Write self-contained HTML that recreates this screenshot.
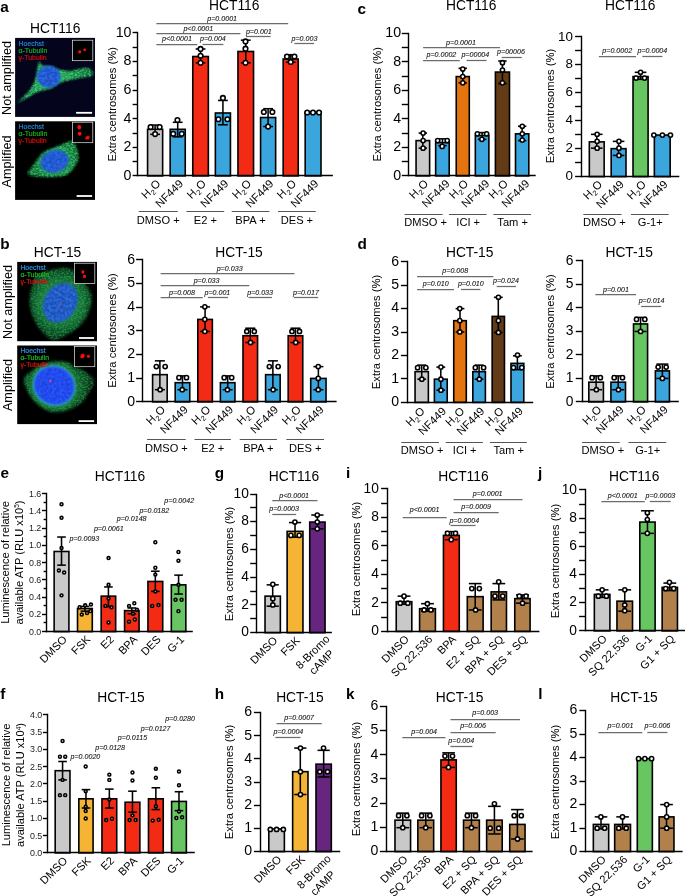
<!DOCTYPE html>
<html><head><meta charset="utf-8"><title>figure</title>
<style>
html,body{margin:0;padding:0;background:#fff;}
body{width:685px;height:896px;overflow:hidden;font-family:"Liberation Sans",sans-serif;}
svg{display:block;}
svg text{font-family:"Liberation Sans",sans-serif;}
</style></head><body>
<svg width="685" height="896" viewBox="0 0 685 896" style="will-change:transform">
<rect x="0" y="0" width="685" height="896" fill="#fff"/>
<defs>
<filter id="b1" x="-30%" y="-30%" width="160%" height="160%"><feGaussianBlur stdDeviation="1.0"/></filter>
<filter id="b2" x="-30%" y="-30%" width="160%" height="160%"><feGaussianBlur stdDeviation="1.8"/></filter>
<filter id="b05" x="-30%" y="-30%" width="160%" height="160%"><feGaussianBlur stdDeviation="0.45"/></filter>
<filter id="fib" x="-10%" y="-10%" width="120%" height="120%">
  <feGaussianBlur in="SourceGraphic" stdDeviation="0.9" result="bl"/>
  <feTurbulence type="fractalNoise" baseFrequency="0.45 0.6" numOctaves="3" seed="11" result="n"/>
  <feColorMatrix in="n" type="matrix" values="0 0 0 0 0  0 0 0 0 0  0 0 0 0 0  0 3.6 0 0 -1.5" result="a"/>
  <feComposite in="bl" in2="a" operator="in" result="c"/>
  <feGaussianBlur in="c" stdDeviation="0.35"/>
</filter>
<filter id="fibn" x="-10%" y="-10%" width="120%" height="120%">
  <feGaussianBlur in="SourceGraphic" stdDeviation="0.8" result="bl"/>
  <feTurbulence type="fractalNoise" baseFrequency="0.4" numOctaves="2" seed="5" result="n"/>
  <feColorMatrix in="n" type="matrix" values="0 0 0 0 0  0 0 0 0 0  0 0 0 0 0  0 0 2.6 0 -0.9" result="a"/>
  <feComposite in="bl" in2="a" operator="in" result="c"/>
  <feGaussianBlur in="c" stdDeviation="0.4"/>
</filter>
</defs>
<g>
<rect x="15.1" y="37.9" width="79.9" height="79" fill="#04041c"/>
<clipPath id="cp15_37"><rect x="15.1" y="37.9" width="79.9" height="79"/></clipPath>
<g clip-path="url(#cp15_37)"><radialGradient id="rg1" gradientUnits="userSpaceOnUse" cx="48.8" cy="76.7" r="46"><stop offset="0.3" stop-color="#26a055"/><stop offset="0.62" stop-color="#1a8444"/><stop offset="1" stop-color="#12683a"/></radialGradient><path d="M39.21,61.75 C39.88,61.6 40.8,65.08 42.39,65.78 C43.98,66.48 47.11,65.78 49.81,66.42 C52.51,67.05 57.39,69.32 60.41,70.02 C63.43,70.72 66.92,71.27 69.94,71.08 C72.97,70.89 77.84,69.19 80.54,68.75 C83.25,68.3 86.12,67.6 87.96,68.11 C89.81,68.62 92.26,70.96 92.84,72.14 C93.41,73.32 92.98,75.22 91.78,75.96 C90.57,76.69 87.42,76.54 84.78,77.02 C82.14,77.49 77.36,78.5 74.18,79.14 C71,79.77 66.13,80.49 63.59,81.25 C61.04,82.02 59.14,83.17 57.23,84.22 C55.32,85.27 53.09,87.33 50.87,88.25 C48.64,89.17 44.62,89.73 42.39,90.37 C40.17,91 38.26,91.41 36.03,92.49 C33.81,93.57 29.78,96.34 27.55,97.58 C25.33,98.82 22.79,99.96 21.2,100.75 C19.61,101.55 16.7,103.35 16.96,102.87 C17.21,102.4 20.98,99.45 22.89,97.58 C24.8,95.7 27.99,92.59 29.67,90.37 C31.36,88.14 33.08,85.15 34.12,82.74 C35.17,80.32 36.1,76.64 36.67,74.26 C37.24,71.88 37.56,68.72 37.94,66.84 C38.32,64.97 38.54,61.91 39.21,61.75 Z" fill="url(#rg1)" filter="url(#b1)"/><path d="M39.21,61.75 C39.88,61.6 40.8,65.08 42.39,65.78 C43.98,66.48 47.11,65.78 49.81,66.42 C52.51,67.05 57.39,69.32 60.41,70.02 C63.43,70.72 66.92,71.27 69.94,71.08 C72.97,70.89 77.84,69.19 80.54,68.75 C83.25,68.3 86.12,67.6 87.96,68.11 C89.81,68.62 92.26,70.96 92.84,72.14 C93.41,73.32 92.98,75.22 91.78,75.96 C90.57,76.69 87.42,76.54 84.78,77.02 C82.14,77.49 77.36,78.5 74.18,79.14 C71,79.77 66.13,80.49 63.59,81.25 C61.04,82.02 59.14,83.17 57.23,84.22 C55.32,85.27 53.09,87.33 50.87,88.25 C48.64,89.17 44.62,89.73 42.39,90.37 C40.17,91 38.26,91.41 36.03,92.49 C33.81,93.57 29.78,96.34 27.55,97.58 C25.33,98.82 22.79,99.96 21.2,100.75 C19.61,101.55 16.7,103.35 16.96,102.87 C17.21,102.4 20.98,99.45 22.89,97.58 C24.8,95.7 27.99,92.59 29.67,90.37 C31.36,88.14 33.08,85.15 34.12,82.74 C35.17,80.32 36.1,76.64 36.67,74.26 C37.24,71.88 37.56,68.72 37.94,66.84 C38.32,64.97 38.54,61.91 39.21,61.75 Z" fill="#46d884" filter="url(#fib)" opacity="0.8"/><ellipse cx="48.8" cy="76.7" rx="11.6" ry="10.6" fill="#1c4fc0" filter="url(#b1)" transform="rotate(0 48.8 76.7)"/><ellipse cx="48.8" cy="76.7" rx="11.6" ry="10.6" fill="#2b6cf0" filter="url(#fibn)" transform="rotate(0 48.8 76.7)"/><circle cx="48" cy="79.8" r="0.8" fill="#e02050" filter="url(#b05)"/></g>
<rect x="72.4" y="40.2" width="20.4" height="20.5" fill="#000" stroke="#e8e8e8" stroke-width="0.7"/>
<ellipse cx="79.7" cy="51.8" rx="1.6" ry="1.6" fill="#ff1010" filter="url(#b05)" transform="rotate(0 79.7 51.8)"/>
<ellipse cx="84.7" cy="49.8" rx="1.4" ry="1.4" fill="#ff1010" filter="url(#b05)" transform="rotate(0 84.7 49.8)"/>
<rect x="76.1" y="111.9" width="16" height="1.8" fill="#fff"/>
<text x="18.6" y="45.9" font-size="6.9" text-anchor="start" fill="#2282d0" stroke="#2282d0" stroke-width="0.22">Hoechst</text>
<text x="18.6" y="52.95" font-size="6.9" text-anchor="start" fill="#18a818" stroke="#18a818" stroke-width="0.22">&#945;-Tubulin</text>
<text x="18.6" y="60" font-size="6.9" text-anchor="start" fill="#cc0c0c" stroke="#cc0c0c" stroke-width="0.22">&#947;-Tubulin</text>
</g>
<g>
<rect x="15.1" y="121.3" width="79.9" height="78.6" fill="#000"/>
<clipPath id="cp15_121"><rect x="15.1" y="121.3" width="79.9" height="78.6"/></clipPath>
<g clip-path="url(#cp15_121)"><radialGradient id="rg2" gradientUnits="userSpaceOnUse" cx="54.6" cy="161.3" r="30"><stop offset="0.3" stop-color="#239a50"/><stop offset="0.62" stop-color="#177a3c"/><stop offset="1" stop-color="#0e5a2c"/></radialGradient><path d="M27.55,173.03 C27.55,171.48 30.56,168.97 32.22,166.67 C33.88,164.38 35.75,161.51 37.52,159.25 C39.28,156.99 40.59,154.84 42.81,153.11 C45.04,151.38 47.76,150.28 50.87,148.87 C53.98,147.46 58,145.94 61.47,144.63 C64.93,143.32 69.24,140.74 71.64,141.03 C74.04,141.31 74.75,143.89 75.88,146.32 C77.01,148.76 78.32,152.75 78.42,155.65 C78.53,158.55 77.68,161.2 76.52,163.7 C75.35,166.21 73.3,168.76 71.43,170.7 C69.56,172.64 68,174.34 65.28,175.36 C62.56,176.39 58.92,176.6 55.11,176.85 C51.29,177.09 46.21,176.99 42.39,176.85 C38.58,176.7 34.69,176.63 32.22,176 C29.74,175.36 27.55,174.59 27.55,173.03 Z" fill="url(#rg2)" filter="url(#b1)"/><path d="M27.55,173.03 C27.55,171.48 30.56,168.97 32.22,166.67 C33.88,164.38 35.75,161.51 37.52,159.25 C39.28,156.99 40.59,154.84 42.81,153.11 C45.04,151.38 47.76,150.28 50.87,148.87 C53.98,147.46 58,145.94 61.47,144.63 C64.93,143.32 69.24,140.74 71.64,141.03 C74.04,141.31 74.75,143.89 75.88,146.32 C77.01,148.76 78.32,152.75 78.42,155.65 C78.53,158.55 77.68,161.2 76.52,163.7 C75.35,166.21 73.3,168.76 71.43,170.7 C69.56,172.64 68,174.34 65.28,175.36 C62.56,176.39 58.92,176.6 55.11,176.85 C51.29,177.09 46.21,176.99 42.39,176.85 C38.58,176.7 34.69,176.63 32.22,176 C29.74,175.36 27.55,174.59 27.55,173.03 Z" fill="#3fcf78" filter="url(#fib)" opacity="0.75"/><ellipse cx="54.6" cy="161.3" rx="14.0" ry="10.8" fill="#1c4fc0" filter="url(#b1)" transform="rotate(-15 54.6 161.3)"/><ellipse cx="54.6" cy="161.3" rx="14.0" ry="10.8" fill="#2b6cf0" filter="url(#fibn)" transform="rotate(-15 54.6 161.3)"/><circle cx="59" cy="166" r="0.8" fill="#e02050" filter="url(#b05)"/></g>
<rect x="72.4" y="122.2" width="20.4" height="20.5" fill="#000" stroke="#e8e8e8" stroke-width="0.7"/>
<ellipse cx="79.3" cy="127.3" rx="1.9" ry="2.3" fill="#ff1010" filter="url(#b05)" transform="rotate(0 79.3 127.3)"/>
<ellipse cx="79.7" cy="133.8" rx="1.9" ry="2.0" fill="#ff1010" filter="url(#b05)" transform="rotate(0 79.7 133.8)"/>
<ellipse cx="87.5" cy="137.7" rx="2.4" ry="1.7" fill="#ff1010" filter="url(#b05)" transform="rotate(-30 87.5 137.7)"/>
<rect x="76.6" y="195.1" width="15.5" height="1.8" fill="#fff"/>
<text x="18.6" y="128.8" font-size="6.9" text-anchor="start" fill="#2282d0" stroke="#2282d0" stroke-width="0.22">Hoechst</text>
<text x="18.6" y="135.85" font-size="6.9" text-anchor="start" fill="#18a818" stroke="#18a818" stroke-width="0.22">&#945;-Tubulin</text>
<text x="18.6" y="142.9" font-size="6.9" text-anchor="start" fill="#cc0c0c" stroke="#cc0c0c" stroke-width="0.22">&#947;-Tubulin</text>
</g>
<g>
<rect x="17.2" y="261.9" width="79.8" height="79.3" fill="#000"/>
<clipPath id="cp17_261"><rect x="17.2" y="261.9" width="79.8" height="79.3"/></clipPath>
<g clip-path="url(#cp17_261)"><radialGradient id="rg3" gradientUnits="userSpaceOnUse" cx="60.3" cy="302.8" r="38"><stop offset="0.3" stop-color="#23944a"/><stop offset="0.62" stop-color="#136a32"/><stop offset="1" stop-color="#072c16"/></radialGradient><path d="M32.34,286.22 C33.43,282.28 33.43,278.34 36.28,275.71 C39.12,273.08 43.94,271.66 49.42,270.45 C54.89,269.25 63.43,266.51 69.12,268.48 C74.82,270.45 79.86,277.79 83.58,282.28 C87.3,286.77 90.59,290.6 91.46,295.42 C92.34,300.23 90.59,306.37 88.83,311.18 C87.08,316 84.23,320.6 80.95,324.32 C77.67,328.04 73.72,330.89 69.12,333.52 C64.53,336.15 58.18,340.75 53.36,340.09 C48.54,339.43 43.72,333.74 40.22,329.58 C36.72,325.42 34.09,320.16 32.34,315.12 C30.58,310.09 29.71,304.18 29.71,299.36 C29.71,294.54 31.24,290.16 32.34,286.22 Z" fill="url(#rg3)" filter="url(#b2)"/><path d="M32.34,286.22 C33.43,282.28 33.43,278.34 36.28,275.71 C39.12,273.08 43.94,271.66 49.42,270.45 C54.89,269.25 63.43,266.51 69.12,268.48 C74.82,270.45 79.86,277.79 83.58,282.28 C87.3,286.77 90.59,290.6 91.46,295.42 C92.34,300.23 90.59,306.37 88.83,311.18 C87.08,316 84.23,320.6 80.95,324.32 C77.67,328.04 73.72,330.89 69.12,333.52 C64.53,336.15 58.18,340.75 53.36,340.09 C48.54,339.43 43.72,333.74 40.22,329.58 C36.72,325.42 34.09,320.16 32.34,315.12 C30.58,310.09 29.71,304.18 29.71,299.36 C29.71,294.54 31.24,290.16 32.34,286.22 Z" fill="#37b060" filter="url(#fib)" opacity="0.5"/><ellipse cx="60.3" cy="302.8" rx="16.0" ry="20.6" fill="#1c4cb4" filter="url(#b1)" transform="rotate(30 60.3 302.8)"/><ellipse cx="60.3" cy="302.8" rx="16.0" ry="20.6" fill="#2f74e0" filter="url(#fibn)" transform="rotate(30 60.3 302.8)"/><circle cx="61" cy="304" r="0.8" fill="#e02050" filter="url(#b05)"/></g>
<rect x="74.4" y="263.2" width="20.4" height="20.4" fill="#000" stroke="#e8e8e8" stroke-width="0.7"/>
<ellipse cx="82.9" cy="272" rx="1.5" ry="1.8" fill="#ff1010" filter="url(#b05)" transform="rotate(0 82.9 272)"/>
<ellipse cx="84.5" cy="276.4" rx="1.6" ry="1.6" fill="#ff1010" filter="url(#b05)" transform="rotate(0 84.5 276.4)"/>
<rect x="79" y="337.1" width="15.1" height="1.8" fill="#fff"/>
<text x="20.4" y="269.8" font-size="6.9" text-anchor="start" fill="#2f8fe0" stroke="#2f8fe0" stroke-width="0.22">Hoechst</text>
<text x="20.4" y="276.85" font-size="6.9" text-anchor="start" fill="#1fb51f" stroke="#1fb51f" stroke-width="0.22">&#945;-Tubulin</text>
<text x="20.4" y="283.9" font-size="6.9" text-anchor="start" fill="#dd1111" stroke="#dd1111" stroke-width="0.22">&#947;-Tubulin</text>
</g>
<g>
<rect x="17.2" y="345.5" width="79.8" height="78.6" fill="#000"/>
<clipPath id="cp17_345"><rect x="17.2" y="345.5" width="79.8" height="78.6"/></clipPath>
<g clip-path="url(#cp17_345)"><radialGradient id="rg4" gradientUnits="userSpaceOnUse" cx="54.2" cy="385.6" r="38"><stop offset="0.3" stop-color="#2aa050"/><stop offset="0.62" stop-color="#13682f"/><stop offset="1" stop-color="#072c16"/></radialGradient><path d="M23.8,379.42 C24.01,376.13 26.97,375.26 29.71,372.85 C32.45,370.44 36.28,366.83 40.22,364.96 C44.16,363.1 48.76,362.12 53.36,361.68 C57.96,361.24 64.42,361.39 67.81,362.34 C71.21,363.28 71.1,365.97 73.72,367.33 C76.35,368.69 80.18,368.25 83.58,370.48 C86.97,372.72 93.21,377.05 94.09,380.73 C94.96,384.41 91.02,388.83 88.83,392.56 C86.64,396.28 84.89,400 80.95,403.07 C77.01,406.13 70.44,409.59 65.18,410.95 C59.93,412.31 54.23,412.53 49.42,411.21 C44.6,409.9 39.78,406.18 36.28,403.07 C32.77,399.96 30.47,396.5 28.39,392.56 C26.31,388.61 23.58,382.7 23.8,379.42 Z" fill="url(#rg4)" filter="url(#b2)"/><path d="M23.8,379.42 C24.01,376.13 26.97,375.26 29.71,372.85 C32.45,370.44 36.28,366.83 40.22,364.96 C44.16,363.1 48.76,362.12 53.36,361.68 C57.96,361.24 64.42,361.39 67.81,362.34 C71.21,363.28 71.1,365.97 73.72,367.33 C76.35,368.69 80.18,368.25 83.58,370.48 C86.97,372.72 93.21,377.05 94.09,380.73 C94.96,384.41 91.02,388.83 88.83,392.56 C86.64,396.28 84.89,400 80.95,403.07 C77.01,406.13 70.44,409.59 65.18,410.95 C59.93,412.31 54.23,412.53 49.42,411.21 C44.6,409.9 39.78,406.18 36.28,403.07 C32.77,399.96 30.47,396.5 28.39,392.56 C26.31,388.61 23.58,382.7 23.8,379.42 Z" fill="#37b060" filter="url(#fib)" opacity="0.5"/><ellipse cx="54.2" cy="385.6" rx="21.6" ry="19.900000000000002" fill="#35b8cc" filter="url(#b1)" transform="rotate(25 54.2 385.6)"/><ellipse cx="54.2" cy="385.6" rx="20.3" ry="18.6" fill="#1b3fe0" filter="url(#b1)" transform="rotate(25 54.2 385.6)"/><ellipse cx="54.2" cy="385.6" rx="20.3" ry="18.6" fill="#2a5cff" filter="url(#fibn)" transform="rotate(25 54.2 385.6)"/><circle cx="50.4" cy="381.0" r="1.3" fill="#f030a0" filter="url(#b05)"/></g>
<rect x="74.4" y="346.6" width="20.4" height="20.1" fill="#000" stroke="#e8e8e8" stroke-width="0.7"/>
<ellipse cx="82.5" cy="356" rx="2.6" ry="1.9" fill="#ff1010" filter="url(#b05)" transform="rotate(-50 82.5 356)"/>
<ellipse cx="88.4" cy="356.4" rx="1.6" ry="1.4" fill="#ff1010" filter="url(#b05)" transform="rotate(0 88.4 356.4)"/>
<rect x="78.6" y="420.2" width="15.5" height="1.8" fill="#fff"/>
<text x="20.4" y="353" font-size="6.9" text-anchor="start" fill="#2f8fe0" stroke="#2f8fe0" stroke-width="0.22">Hoechst</text>
<text x="20.4" y="360.05" font-size="6.9" text-anchor="start" fill="#1fb51f" stroke="#1fb51f" stroke-width="0.22">&#945;-Tubulin</text>
<text x="20.4" y="367.1" font-size="6.9" text-anchor="start" fill="#dd1111" stroke="#dd1111" stroke-width="0.22">&#947;-Tubulin</text>
</g>
<text x="0.3" y="12.3" font-size="15.3" text-anchor="start" fill="#000" font-weight="bold" >a</text>
<text x="55.2" y="33.4" font-size="13.8" text-anchor="middle" fill="#000" >HCT116</text>
<text x="11.1" y="78" font-size="12.7" text-anchor="middle" fill="#000" transform="rotate(-90 11.1 78)" >Not amplified</text>
<text x="11.1" y="161.5" font-size="12.7" text-anchor="middle" fill="#000" transform="rotate(-90 11.1 161.5)" >Amplified</text>
<text x="0.3" y="248.6" font-size="15.3" text-anchor="start" fill="#000" font-weight="bold" >b</text>
<text x="57.5" y="256.7" font-size="13.8" text-anchor="middle" fill="#000" >HCT-15</text>
<text x="11.5" y="302" font-size="12.7" text-anchor="middle" fill="#000" transform="rotate(-90 11.5 302)" >Not amplified</text>
<text x="11.5" y="385" font-size="12.7" text-anchor="middle" fill="#000" transform="rotate(-90 11.5 385)" >Amplified</text>
<rect x="147.57" y="129.31" width="15.07" height="46.59" fill="#C9C9C9" stroke="#000" stroke-width="1.6"/>
<rect x="170.17" y="129.31" width="15.07" height="46.59" fill="#3BA6DE" stroke="#000" stroke-width="1.6"/>
<rect x="192.77" y="56.5" width="15.57" height="119.4" fill="#F32B14" stroke="#000" stroke-width="1.6"/>
<rect x="215.37" y="112.99" width="15.07" height="62.91" fill="#3BA6DE" stroke="#000" stroke-width="1.6"/>
<rect x="237.97" y="51.47" width="15.57" height="124.43" fill="#F32B14" stroke="#000" stroke-width="1.6"/>
<rect x="260.57" y="117.51" width="15.07" height="58.39" fill="#3BA6DE" stroke="#000" stroke-width="1.6"/>
<rect x="283.17" y="59.01" width="15.07" height="116.89" fill="#F32B14" stroke="#000" stroke-width="1.6"/>
<rect x="305.19" y="112.49" width="15.82" height="63.41" fill="#3BA6DE" stroke="#000" stroke-width="1.6"/>
<line x1="155.11" y1="125.05" x2="155.11" y2="134.34" stroke="#000" stroke-width="1.55" stroke-linecap="butt"/>
<line x1="150.21" y1="125.05" x2="160.01" y2="125.05" stroke="#000" stroke-width="1.55" stroke-linecap="butt"/>
<line x1="150.21" y1="134.34" x2="160.01" y2="134.34" stroke="#000" stroke-width="1.55" stroke-linecap="butt"/>
<line x1="177.71" y1="122.28" x2="177.71" y2="136.85" stroke="#000" stroke-width="1.55" stroke-linecap="butt"/>
<line x1="172.81" y1="122.28" x2="182.61" y2="122.28" stroke="#000" stroke-width="1.55" stroke-linecap="butt"/>
<line x1="172.81" y1="136.85" x2="182.61" y2="136.85" stroke="#000" stroke-width="1.55" stroke-linecap="butt"/>
<line x1="200.56" y1="48.96" x2="200.56" y2="62.77" stroke="#000" stroke-width="1.55" stroke-linecap="butt"/>
<line x1="195.66" y1="48.96" x2="205.46" y2="48.96" stroke="#000" stroke-width="1.55" stroke-linecap="butt"/>
<line x1="195.66" y1="62.77" x2="205.46" y2="62.77" stroke="#000" stroke-width="1.55" stroke-linecap="butt"/>
<line x1="222.91" y1="100.44" x2="222.91" y2="124.79" stroke="#000" stroke-width="1.55" stroke-linecap="butt"/>
<line x1="218.01" y1="100.44" x2="227.81" y2="100.44" stroke="#000" stroke-width="1.55" stroke-linecap="butt"/>
<line x1="218.01" y1="124.79" x2="227.81" y2="124.79" stroke="#000" stroke-width="1.55" stroke-linecap="butt"/>
<line x1="245.75" y1="40.18" x2="245.75" y2="62.77" stroke="#000" stroke-width="1.55" stroke-linecap="butt"/>
<line x1="240.85" y1="40.18" x2="250.65" y2="40.18" stroke="#000" stroke-width="1.55" stroke-linecap="butt"/>
<line x1="240.85" y1="62.77" x2="250.65" y2="62.77" stroke="#000" stroke-width="1.55" stroke-linecap="butt"/>
<line x1="268.1" y1="108.72" x2="268.1" y2="126.55" stroke="#000" stroke-width="1.55" stroke-linecap="butt"/>
<line x1="263.2" y1="108.72" x2="273" y2="108.72" stroke="#000" stroke-width="1.55" stroke-linecap="butt"/>
<line x1="263.2" y1="126.55" x2="273" y2="126.55" stroke="#000" stroke-width="1.55" stroke-linecap="butt"/>
<line x1="290.7" y1="54.74" x2="290.7" y2="62.27" stroke="#000" stroke-width="1.55" stroke-linecap="butt"/>
<line x1="285.8" y1="54.74" x2="295.6" y2="54.74" stroke="#000" stroke-width="1.55" stroke-linecap="butt"/>
<line x1="285.8" y1="62.27" x2="295.6" y2="62.27" stroke="#000" stroke-width="1.55" stroke-linecap="butt"/>
<circle cx="150.59" cy="127.05" r="2.3" fill="#fff" fill-opacity="1" stroke="#000" stroke-width="1.6"/>
<circle cx="159.63" cy="127.05" r="2.3" fill="#fff" fill-opacity="1" stroke="#000" stroke-width="1.6"/>
<circle cx="155.11" cy="134.08" r="2.3" fill="#fff" fill-opacity="1" stroke="#000" stroke-width="1.6"/>
<circle cx="173.19" cy="133.83" r="2.3" fill="#fff" fill-opacity="1" stroke="#000" stroke-width="1.6"/>
<circle cx="181.73" cy="133.83" r="2.3" fill="#fff" fill-opacity="1" stroke="#000" stroke-width="1.6"/>
<circle cx="177.46" cy="120.02" r="2.3" fill="#fff" fill-opacity="1" stroke="#000" stroke-width="1.6"/>
<circle cx="200.56" cy="48.96" r="2.3" fill="#fff" fill-opacity="1" stroke="#000" stroke-width="1.6"/>
<circle cx="200.56" cy="55.74" r="2.3" fill="#fff" fill-opacity="1" stroke="#000" stroke-width="1.6"/>
<circle cx="200.56" cy="62.77" r="2.3" fill="#fff" fill-opacity="1" stroke="#000" stroke-width="1.6"/>
<circle cx="222.91" cy="97.93" r="2.3" fill="#fff" fill-opacity="1" stroke="#000" stroke-width="1.6"/>
<circle cx="218.39" cy="119.27" r="2.3" fill="#fff" fill-opacity="1" stroke="#000" stroke-width="1.6"/>
<circle cx="227.42" cy="119.27" r="2.3" fill="#fff" fill-opacity="1" stroke="#000" stroke-width="1.6"/>
<circle cx="245.5" cy="41.43" r="2.3" fill="#fff" fill-opacity="1" stroke="#000" stroke-width="1.6"/>
<circle cx="245.5" cy="48.71" r="2.3" fill="#fff" fill-opacity="1" stroke="#000" stroke-width="1.6"/>
<circle cx="245.5" cy="62.77" r="2.3" fill="#fff" fill-opacity="1" stroke="#000" stroke-width="1.6"/>
<circle cx="263.83" cy="111.99" r="2.3" fill="#fff" fill-opacity="1" stroke="#000" stroke-width="1.6"/>
<circle cx="272.37" cy="111.99" r="2.3" fill="#fff" fill-opacity="1" stroke="#000" stroke-width="1.6"/>
<circle cx="268.1" cy="126.55" r="2.3" fill="#fff" fill-opacity="1" stroke="#000" stroke-width="1.6"/>
<circle cx="286.93" cy="56.5" r="2.3" fill="#fff" fill-opacity="1" stroke="#000" stroke-width="1.6"/>
<circle cx="294.47" cy="56.5" r="2.3" fill="#fff" fill-opacity="1" stroke="#000" stroke-width="1.6"/>
<circle cx="290.7" cy="62.02" r="2.3" fill="#fff" fill-opacity="1" stroke="#000" stroke-width="1.6"/>
<circle cx="307.21" cy="112.49" r="2.3" fill="#fff" fill-opacity="1" stroke="#000" stroke-width="1.6"/>
<circle cx="312.98" cy="112.49" r="2.3" fill="#fff" fill-opacity="1" stroke="#000" stroke-width="1.6"/>
<circle cx="319.01" cy="112.49" r="2.3" fill="#fff" fill-opacity="1" stroke="#000" stroke-width="1.6"/>
<line x1="137.5" y1="31.8" x2="137.5" y2="176.2" stroke="#000" stroke-width="1.4" stroke-linecap="butt"/>
<line x1="136.8" y1="175.5" x2="332.9" y2="175.5" stroke="#000" stroke-width="1.4" stroke-linecap="butt"/>
<line x1="132.6" y1="175.5" x2="137.5" y2="175.5" stroke="#000" stroke-width="1.4" stroke-linecap="butt"/>
<text x="131.44" y="179.78" font-size="14.2" text-anchor="end" fill="#000" >0</text>
<line x1="132.6" y1="147.5" x2="137.5" y2="147.5" stroke="#000" stroke-width="1.4" stroke-linecap="butt"/>
<text x="131.44" y="151.2" font-size="14.2" text-anchor="end" fill="#000" >2</text>
<line x1="132.6" y1="118.5" x2="137.5" y2="118.5" stroke="#000" stroke-width="1.4" stroke-linecap="butt"/>
<text x="131.44" y="122.62" font-size="14.2" text-anchor="end" fill="#000" >4</text>
<line x1="132.6" y1="90.5" x2="137.5" y2="90.5" stroke="#000" stroke-width="1.4" stroke-linecap="butt"/>
<text x="131.44" y="94.04" font-size="14.2" text-anchor="end" fill="#000" >6</text>
<line x1="132.6" y1="61.5" x2="137.5" y2="61.5" stroke="#000" stroke-width="1.4" stroke-linecap="butt"/>
<text x="131.44" y="65.46" font-size="14.2" text-anchor="end" fill="#000" >8</text>
<line x1="132.6" y1="32.5" x2="137.5" y2="32.5" stroke="#000" stroke-width="1.4" stroke-linecap="butt"/>
<text x="131.44" y="36.88" font-size="14.2" text-anchor="end" fill="#000" >10</text>
<line x1="132.6" y1="161.5" x2="137.5" y2="161.5" stroke="#000" stroke-width="1.4" stroke-linecap="butt"/>
<line x1="132.6" y1="133.5" x2="137.5" y2="133.5" stroke="#000" stroke-width="1.4" stroke-linecap="butt"/>
<line x1="132.6" y1="104.5" x2="137.5" y2="104.5" stroke="#000" stroke-width="1.4" stroke-linecap="butt"/>
<line x1="132.6" y1="75.5" x2="137.5" y2="75.5" stroke="#000" stroke-width="1.4" stroke-linecap="butt"/>
<line x1="132.6" y1="47.5" x2="137.5" y2="47.5" stroke="#000" stroke-width="1.4" stroke-linecap="butt"/>
<line x1="156.36" y1="23.5" x2="288.19" y2="23.5" stroke="#6c6c6c" stroke-width="1.25" stroke-linecap="butt"/>
<text x="222.15" y="20.59" font-size="7.1" text-anchor="middle" fill="#111" font-style="italic" stroke="#111" stroke-width="0.1">p=0.0001</text>
<line x1="156.36" y1="33.5" x2="240.48" y2="33.5" stroke="#6c6c6c" stroke-width="1.25" stroke-linecap="butt"/>
<text x="198.3" y="30.63" font-size="7.1" text-anchor="middle" fill="#111" font-style="italic" stroke="#111" stroke-width="0.1">p&lt;0.0001</text>
<line x1="156.36" y1="44.5" x2="197.29" y2="44.5" stroke="#6c6c6c" stroke-width="1.25" stroke-linecap="butt"/>
<text x="176.95" y="41.18" font-size="7.1" text-anchor="middle" fill="#111" font-style="italic" stroke="#111" stroke-width="0.1">p&lt;0.0001</text>
<line x1="202.57" y1="44.5" x2="223.41" y2="44.5" stroke="#6c6c6c" stroke-width="1.25" stroke-linecap="butt"/>
<text x="212.86" y="41.18" font-size="7.1" text-anchor="middle" fill="#111" font-style="italic" stroke="#111" stroke-width="0.1">p=0.004</text>
<line x1="246.01" y1="36.5" x2="270.61" y2="36.5" stroke="#6c6c6c" stroke-width="1.25" stroke-linecap="butt"/>
<text x="258.81" y="33.65" font-size="7.1" text-anchor="middle" fill="#111" font-style="italic" stroke="#111" stroke-width="0.1">p=0.001</text>
<line x1="294.4" y1="43.5" x2="313.99" y2="43.5" stroke="#6c6c6c" stroke-width="1.25" stroke-linecap="butt"/>
<text x="304.44" y="40.68" font-size="7.1" text-anchor="middle" fill="#111" font-style="italic" stroke="#111" stroke-width="0.1">p=0.003</text>
<text x="234.3" y="9.9" font-size="13.8" text-anchor="middle" fill="#000" >HCT116</text>
<text x="115.8" y="104.2" font-size="11.25" text-anchor="middle" fill="#000" transform="rotate(-90 115.8 104.2)" >Extra centrosomes (%)</text>
<text x="161.31" y="184.3" font-size="11.3" text-anchor="end" fill="#000" transform="rotate(-45 161.31 184.3)" >H<tspan font-size="7.4" dy="2.6" dx="0.2">2</tspan><tspan dy="-2.6" dx="0.3">O</tspan></text>
<text x="183.91" y="184.3" font-size="11.3" text-anchor="end" fill="#000" transform="rotate(-45 183.91 184.3)" >NF449</text>
<text x="206.76" y="184.3" font-size="11.3" text-anchor="end" fill="#000" transform="rotate(-45 206.76 184.3)" >H<tspan font-size="7.4" dy="2.6" dx="0.2">2</tspan><tspan dy="-2.6" dx="0.3">O</tspan></text>
<text x="229.11" y="184.3" font-size="11.3" text-anchor="end" fill="#000" transform="rotate(-45 229.11 184.3)" >NF449</text>
<text x="251.95" y="184.3" font-size="11.3" text-anchor="end" fill="#000" transform="rotate(-45 251.95 184.3)" >H<tspan font-size="7.4" dy="2.6" dx="0.2">2</tspan><tspan dy="-2.6" dx="0.3">O</tspan></text>
<text x="274.3" y="184.3" font-size="11.3" text-anchor="end" fill="#000" transform="rotate(-45 274.3 184.3)" >NF449</text>
<text x="296.9" y="184.3" font-size="11.3" text-anchor="end" fill="#000" transform="rotate(-45 296.9 184.3)" >H<tspan font-size="7.4" dy="2.6" dx="0.2">2</tspan><tspan dy="-2.6" dx="0.3">O</tspan></text>
<text x="319.31" y="184.3" font-size="11.3" text-anchor="end" fill="#000" transform="rotate(-45 319.31 184.3)" >NF449</text>
<line x1="138.79" y1="211.5" x2="177.71" y2="211.5" stroke="#555" stroke-width="1.15" stroke-linecap="butt"/>
<text x="158.25" y="223.6" font-size="11.1" text-anchor="middle" fill="#000" >DMSO +</text>
<line x1="186.5" y1="211.5" x2="224.16" y2="211.5" stroke="#555" stroke-width="1.15" stroke-linecap="butt"/>
<text x="205.33" y="223.6" font-size="11.1" text-anchor="middle" fill="#000" >E2 +</text>
<line x1="231.69" y1="211.5" x2="269.36" y2="211.5" stroke="#555" stroke-width="1.15" stroke-linecap="butt"/>
<text x="250.53" y="223.6" font-size="11.1" text-anchor="middle" fill="#000" >BPA +</text>
<line x1="278.08" y1="211.5" x2="315.74" y2="211.5" stroke="#555" stroke-width="1.15" stroke-linecap="butt"/>
<text x="296.91" y="223.6" font-size="11.1" text-anchor="middle" fill="#000" >DES +</text>
<rect x="152.6" y="374.66" width="14.57" height="27.24" fill="#C9C9C9" stroke="#000" stroke-width="1.6"/>
<rect x="175.19" y="382.69" width="14.57" height="19.21" fill="#3BA6DE" stroke="#000" stroke-width="1.6"/>
<rect x="197.79" y="319.42" width="14.57" height="82.48" fill="#F32B14" stroke="#000" stroke-width="1.6"/>
<rect x="220.39" y="382.69" width="14.57" height="19.21" fill="#3BA6DE" stroke="#000" stroke-width="1.6"/>
<rect x="242.99" y="335.74" width="14.57" height="66.16" fill="#F32B14" stroke="#000" stroke-width="1.6"/>
<rect x="265.59" y="374.66" width="14.57" height="27.24" fill="#3BA6DE" stroke="#000" stroke-width="1.6"/>
<rect x="288.19" y="335.74" width="14.57" height="66.16" fill="#F32B14" stroke="#000" stroke-width="1.6"/>
<rect x="310.72" y="378.42" width="15.32" height="23.48" fill="#3BA6DE" stroke="#000" stroke-width="1.6"/>
<line x1="159.88" y1="360.85" x2="159.88" y2="389.72" stroke="#000" stroke-width="1.55" stroke-linecap="butt"/>
<line x1="154.88" y1="360.85" x2="164.88" y2="360.85" stroke="#000" stroke-width="1.55" stroke-linecap="butt"/>
<line x1="154.88" y1="389.72" x2="164.88" y2="389.72" stroke="#000" stroke-width="1.55" stroke-linecap="butt"/>
<line x1="182.48" y1="375.91" x2="182.48" y2="389.72" stroke="#000" stroke-width="1.55" stroke-linecap="butt"/>
<line x1="177.48" y1="375.91" x2="187.48" y2="375.91" stroke="#000" stroke-width="1.55" stroke-linecap="butt"/>
<line x1="177.48" y1="389.72" x2="187.48" y2="389.72" stroke="#000" stroke-width="1.55" stroke-linecap="butt"/>
<line x1="205.08" y1="306.86" x2="205.08" y2="331.47" stroke="#000" stroke-width="1.55" stroke-linecap="butt"/>
<line x1="200.08" y1="306.86" x2="210.08" y2="306.86" stroke="#000" stroke-width="1.55" stroke-linecap="butt"/>
<line x1="200.08" y1="331.47" x2="210.08" y2="331.47" stroke="#000" stroke-width="1.55" stroke-linecap="butt"/>
<line x1="227.68" y1="375.91" x2="227.68" y2="389.72" stroke="#000" stroke-width="1.55" stroke-linecap="butt"/>
<line x1="222.68" y1="375.91" x2="232.68" y2="375.91" stroke="#000" stroke-width="1.55" stroke-linecap="butt"/>
<line x1="222.68" y1="389.72" x2="232.68" y2="389.72" stroke="#000" stroke-width="1.55" stroke-linecap="butt"/>
<line x1="250.27" y1="328.2" x2="250.27" y2="342.52" stroke="#000" stroke-width="1.55" stroke-linecap="butt"/>
<line x1="245.27" y1="328.2" x2="255.27" y2="328.2" stroke="#000" stroke-width="1.55" stroke-linecap="butt"/>
<line x1="245.27" y1="342.52" x2="255.27" y2="342.52" stroke="#000" stroke-width="1.55" stroke-linecap="butt"/>
<line x1="272.87" y1="360.85" x2="272.87" y2="389.72" stroke="#000" stroke-width="1.55" stroke-linecap="butt"/>
<line x1="267.87" y1="360.85" x2="277.87" y2="360.85" stroke="#000" stroke-width="1.55" stroke-linecap="butt"/>
<line x1="267.87" y1="389.72" x2="277.87" y2="389.72" stroke="#000" stroke-width="1.55" stroke-linecap="butt"/>
<line x1="295.47" y1="328.2" x2="295.47" y2="342.52" stroke="#000" stroke-width="1.55" stroke-linecap="butt"/>
<line x1="290.47" y1="328.2" x2="300.47" y2="328.2" stroke="#000" stroke-width="1.55" stroke-linecap="butt"/>
<line x1="290.47" y1="342.52" x2="300.47" y2="342.52" stroke="#000" stroke-width="1.55" stroke-linecap="butt"/>
<line x1="318.38" y1="366.62" x2="318.38" y2="389.72" stroke="#000" stroke-width="1.55" stroke-linecap="butt"/>
<line x1="313.38" y1="366.62" x2="323.38" y2="366.62" stroke="#000" stroke-width="1.55" stroke-linecap="butt"/>
<line x1="313.38" y1="389.72" x2="323.38" y2="389.72" stroke="#000" stroke-width="1.55" stroke-linecap="butt"/>
<circle cx="156.36" cy="366.62" r="2.1" fill="#fff" fill-opacity="1" stroke="#000" stroke-width="1.6"/>
<circle cx="165.15" cy="366.62" r="2.1" fill="#fff" fill-opacity="1" stroke="#000" stroke-width="1.6"/>
<circle cx="160.13" cy="389.72" r="2.1" fill="#fff" fill-opacity="1" stroke="#000" stroke-width="1.6"/>
<circle cx="178.96" cy="377.67" r="2.1" fill="#fff" fill-opacity="1" stroke="#000" stroke-width="1.6"/>
<circle cx="186.5" cy="377.67" r="2.1" fill="#fff" fill-opacity="1" stroke="#000" stroke-width="1.6"/>
<circle cx="182.23" cy="389.72" r="2.1" fill="#fff" fill-opacity="1" stroke="#000" stroke-width="1.6"/>
<circle cx="204.83" cy="306.86" r="2.1" fill="#fff" fill-opacity="1" stroke="#000" stroke-width="1.6"/>
<circle cx="204.83" cy="319.42" r="2.1" fill="#fff" fill-opacity="1" stroke="#000" stroke-width="1.6"/>
<circle cx="204.83" cy="331.47" r="2.1" fill="#fff" fill-opacity="1" stroke="#000" stroke-width="1.6"/>
<circle cx="224.16" cy="377.67" r="2.1" fill="#fff" fill-opacity="1" stroke="#000" stroke-width="1.6"/>
<circle cx="231.69" cy="377.67" r="2.1" fill="#fff" fill-opacity="1" stroke="#000" stroke-width="1.6"/>
<circle cx="227.42" cy="389.72" r="2.1" fill="#fff" fill-opacity="1" stroke="#000" stroke-width="1.6"/>
<circle cx="246.76" cy="331.47" r="2.1" fill="#fff" fill-opacity="1" stroke="#000" stroke-width="1.6"/>
<circle cx="254.29" cy="331.47" r="2.1" fill="#fff" fill-opacity="1" stroke="#000" stroke-width="1.6"/>
<circle cx="250.53" cy="342.52" r="2.1" fill="#fff" fill-opacity="1" stroke="#000" stroke-width="1.6"/>
<circle cx="269.36" cy="366.62" r="2.1" fill="#fff" fill-opacity="1" stroke="#000" stroke-width="1.6"/>
<circle cx="278.15" cy="366.62" r="2.1" fill="#fff" fill-opacity="1" stroke="#000" stroke-width="1.6"/>
<circle cx="273.12" cy="389.72" r="2.1" fill="#fff" fill-opacity="1" stroke="#000" stroke-width="1.6"/>
<circle cx="291.96" cy="331.47" r="2.1" fill="#fff" fill-opacity="1" stroke="#000" stroke-width="1.6"/>
<circle cx="299.49" cy="331.47" r="2.1" fill="#fff" fill-opacity="1" stroke="#000" stroke-width="1.6"/>
<circle cx="295.72" cy="342.52" r="2.1" fill="#fff" fill-opacity="1" stroke="#000" stroke-width="1.6"/>
<circle cx="318.25" cy="366.62" r="2.1" fill="#fff" fill-opacity="1" stroke="#000" stroke-width="1.6"/>
<circle cx="318.25" cy="378.42" r="2.1" fill="#fff" fill-opacity="1" stroke="#000" stroke-width="1.6"/>
<circle cx="318.25" cy="389.72" r="2.1" fill="#fff" fill-opacity="1" stroke="#000" stroke-width="1.6"/>
<line x1="142.5" y1="258.8" x2="142.5" y2="402.2" stroke="#000" stroke-width="1.4" stroke-linecap="butt"/>
<line x1="141.8" y1="401.5" x2="336.6" y2="401.5" stroke="#000" stroke-width="1.4" stroke-linecap="butt"/>
<line x1="136.1" y1="401.5" x2="142.5" y2="401.5" stroke="#000" stroke-width="1.4" stroke-linecap="butt"/>
<text x="135.13" y="405.75" font-size="14.1" text-anchor="end" fill="#000" >0</text>
<line x1="136.1" y1="378.5" x2="142.5" y2="378.5" stroke="#000" stroke-width="1.4" stroke-linecap="butt"/>
<text x="135.13" y="382.08" font-size="14.1" text-anchor="end" fill="#000" >1</text>
<line x1="136.1" y1="354.5" x2="142.5" y2="354.5" stroke="#000" stroke-width="1.4" stroke-linecap="butt"/>
<text x="135.13" y="358.41" font-size="14.1" text-anchor="end" fill="#000" >2</text>
<line x1="136.1" y1="330.5" x2="142.5" y2="330.5" stroke="#000" stroke-width="1.4" stroke-linecap="butt"/>
<text x="135.13" y="334.75" font-size="14.1" text-anchor="end" fill="#000" >3</text>
<line x1="136.1" y1="307.5" x2="142.5" y2="307.5" stroke="#000" stroke-width="1.4" stroke-linecap="butt"/>
<text x="135.13" y="311.08" font-size="14.1" text-anchor="end" fill="#000" >4</text>
<line x1="136.1" y1="283.5" x2="142.5" y2="283.5" stroke="#000" stroke-width="1.4" stroke-linecap="butt"/>
<text x="135.13" y="287.41" font-size="14.1" text-anchor="end" fill="#000" >5</text>
<line x1="136.1" y1="259.5" x2="142.5" y2="259.5" stroke="#000" stroke-width="1.4" stroke-linecap="butt"/>
<text x="135.13" y="263.75" font-size="14.1" text-anchor="end" fill="#000" >6</text>
<line x1="160.63" y1="273.5" x2="294.47" y2="273.5" stroke="#6c6c6c" stroke-width="1.25" stroke-linecap="butt"/>
<text x="229.68" y="270.95" font-size="7.1" text-anchor="middle" fill="#111" font-style="italic" stroke="#111" stroke-width="0.1">p=0.033</text>
<line x1="160.63" y1="285.5" x2="249.27" y2="285.5" stroke="#6c6c6c" stroke-width="1.25" stroke-linecap="butt"/>
<text x="206.58" y="283.01" font-size="7.1" text-anchor="middle" fill="#111" font-style="italic" stroke="#111" stroke-width="0.1">p=0.033</text>
<line x1="160.63" y1="297.5" x2="202.82" y2="297.5" stroke="#6c6c6c" stroke-width="1.25" stroke-linecap="butt"/>
<text x="181.98" y="295.06" font-size="7.1" text-anchor="middle" fill="#111" font-style="italic" stroke="#111" stroke-width="0.1">p=0.008</text>
<line x1="207.84" y1="297.5" x2="227.93" y2="297.5" stroke="#6c6c6c" stroke-width="1.25" stroke-linecap="butt"/>
<text x="217.38" y="295.06" font-size="7.1" text-anchor="middle" fill="#111" font-style="italic" stroke="#111" stroke-width="0.1">p=0.001</text>
<line x1="248.52" y1="297.5" x2="271.87" y2="297.5" stroke="#6c6c6c" stroke-width="1.25" stroke-linecap="butt"/>
<text x="260.07" y="295.06" font-size="7.1" text-anchor="middle" fill="#111" font-style="italic" stroke="#111" stroke-width="0.1">p=0.033</text>
<line x1="293.9" y1="297.5" x2="318.25" y2="297.5" stroke="#6c6c6c" stroke-width="1.25" stroke-linecap="butt"/>
<text x="305.95" y="295.06" font-size="7.1" text-anchor="middle" fill="#111" font-style="italic" stroke="#111" stroke-width="0.1">p=0.017</text>
<text x="239" y="256.7" font-size="13.8" text-anchor="middle" fill="#000" >HCT-15</text>
<text x="115.9" y="330.5" font-size="11.25" text-anchor="middle" fill="#000" transform="rotate(-90 115.9 330.5)" >Extra centrosomes (%)</text>
<text x="166.08" y="410.3" font-size="11.3" text-anchor="end" fill="#000" transform="rotate(-45 166.08 410.3)" >H<tspan font-size="7.4" dy="2.6" dx="0.2">2</tspan><tspan dy="-2.6" dx="0.3">O</tspan></text>
<text x="188.68" y="410.3" font-size="11.3" text-anchor="end" fill="#000" transform="rotate(-45 188.68 410.3)" >NF449</text>
<text x="211.28" y="410.3" font-size="11.3" text-anchor="end" fill="#000" transform="rotate(-45 211.28 410.3)" >H<tspan font-size="7.4" dy="2.6" dx="0.2">2</tspan><tspan dy="-2.6" dx="0.3">O</tspan></text>
<text x="233.88" y="410.3" font-size="11.3" text-anchor="end" fill="#000" transform="rotate(-45 233.88 410.3)" >NF449</text>
<text x="256.47" y="410.3" font-size="11.3" text-anchor="end" fill="#000" transform="rotate(-45 256.47 410.3)" >H<tspan font-size="7.4" dy="2.6" dx="0.2">2</tspan><tspan dy="-2.6" dx="0.3">O</tspan></text>
<text x="279.07" y="410.3" font-size="11.3" text-anchor="end" fill="#000" transform="rotate(-45 279.07 410.3)" >NF449</text>
<text x="301.67" y="410.3" font-size="11.3" text-anchor="end" fill="#000" transform="rotate(-45 301.67 410.3)" >H<tspan font-size="7.4" dy="2.6" dx="0.2">2</tspan><tspan dy="-2.6" dx="0.3">O</tspan></text>
<text x="324.58" y="410.3" font-size="11.3" text-anchor="end" fill="#000" transform="rotate(-45 324.58 410.3)" >NF449</text>
<line x1="147.07" y1="439.5" x2="185.74" y2="439.5" stroke="#555" stroke-width="1.15" stroke-linecap="butt"/>
<text x="166.41" y="452" font-size="11.1" text-anchor="middle" fill="#000" >DMSO +</text>
<line x1="194.53" y1="439.5" x2="230.94" y2="439.5" stroke="#555" stroke-width="1.15" stroke-linecap="butt"/>
<text x="212.74" y="452" font-size="11.1" text-anchor="middle" fill="#000" >E2 +</text>
<line x1="239.73" y1="439.5" x2="276.89" y2="439.5" stroke="#555" stroke-width="1.15" stroke-linecap="butt"/>
<text x="258.31" y="452" font-size="11.1" text-anchor="middle" fill="#000" >BPA +</text>
<line x1="286.36" y1="439.5" x2="324.03" y2="439.5" stroke="#555" stroke-width="1.15" stroke-linecap="butt"/>
<text x="305.2" y="452" font-size="11.1" text-anchor="middle" fill="#000" >DES +</text>
<text x="357.6" y="13.8" font-size="15.3" text-anchor="start" fill="#000" font-weight="bold" >c</text>
<rect x="416.07" y="140.61" width="13.56" height="35.29" fill="#C9C9C9" stroke="#000" stroke-width="1.6"/>
<rect x="435.65" y="142.62" width="13.56" height="33.28" fill="#3BA6DE" stroke="#000" stroke-width="1.6"/>
<rect x="456.24" y="76.58" width="13.06" height="99.32" fill="#E3740F" stroke="#000" stroke-width="1.6"/>
<rect x="475.33" y="135.59" width="13.56" height="40.31" fill="#3BA6DE" stroke="#000" stroke-width="1.6"/>
<rect x="495.41" y="72.06" width="14.07" height="103.84" fill="#643B17" stroke="#000" stroke-width="1.6"/>
<rect x="515.5" y="133.83" width="13.31" height="42.07" fill="#3BA6DE" stroke="#000" stroke-width="1.6"/>
<line x1="422.85" y1="133.08" x2="422.85" y2="148.15" stroke="#000" stroke-width="1.55" stroke-linecap="butt"/>
<line x1="418.65" y1="133.08" x2="427.05" y2="133.08" stroke="#000" stroke-width="1.55" stroke-linecap="butt"/>
<line x1="418.65" y1="148.15" x2="427.05" y2="148.15" stroke="#000" stroke-width="1.55" stroke-linecap="butt"/>
<line x1="442.44" y1="138.86" x2="442.44" y2="145.64" stroke="#000" stroke-width="1.55" stroke-linecap="butt"/>
<line x1="438.24" y1="138.86" x2="446.64" y2="138.86" stroke="#000" stroke-width="1.55" stroke-linecap="butt"/>
<line x1="438.24" y1="145.64" x2="446.64" y2="145.64" stroke="#000" stroke-width="1.55" stroke-linecap="butt"/>
<line x1="462.77" y1="68.3" x2="462.77" y2="82.86" stroke="#000" stroke-width="1.55" stroke-linecap="butt"/>
<line x1="458.57" y1="68.3" x2="466.97" y2="68.3" stroke="#000" stroke-width="1.55" stroke-linecap="butt"/>
<line x1="458.57" y1="82.86" x2="466.97" y2="82.86" stroke="#000" stroke-width="1.55" stroke-linecap="butt"/>
<line x1="482.11" y1="132.58" x2="482.11" y2="139.36" stroke="#000" stroke-width="1.55" stroke-linecap="butt"/>
<line x1="477.91" y1="132.58" x2="486.31" y2="132.58" stroke="#000" stroke-width="1.55" stroke-linecap="butt"/>
<line x1="477.91" y1="139.36" x2="486.31" y2="139.36" stroke="#000" stroke-width="1.55" stroke-linecap="butt"/>
<line x1="502.45" y1="61.02" x2="502.45" y2="83.61" stroke="#000" stroke-width="1.55" stroke-linecap="butt"/>
<line x1="498.25" y1="61.02" x2="506.65" y2="61.02" stroke="#000" stroke-width="1.55" stroke-linecap="butt"/>
<line x1="498.25" y1="83.61" x2="506.65" y2="83.61" stroke="#000" stroke-width="1.55" stroke-linecap="butt"/>
<line x1="522.16" y1="126.3" x2="522.16" y2="140.61" stroke="#000" stroke-width="1.55" stroke-linecap="butt"/>
<line x1="517.96" y1="126.3" x2="526.36" y2="126.3" stroke="#000" stroke-width="1.55" stroke-linecap="butt"/>
<line x1="517.96" y1="140.61" x2="526.36" y2="140.61" stroke="#000" stroke-width="1.55" stroke-linecap="butt"/>
<circle cx="423.1" cy="133.08" r="2.1" fill="#fff" fill-opacity="1" stroke="#000" stroke-width="1.6"/>
<circle cx="423.1" cy="140.61" r="2.1" fill="#fff" fill-opacity="1" stroke="#000" stroke-width="1.6"/>
<circle cx="423.1" cy="148.15" r="2.1" fill="#fff" fill-opacity="1" stroke="#000" stroke-width="1.6"/>
<circle cx="437.66" cy="140.61" r="2.1" fill="#fff" fill-opacity="1" stroke="#000" stroke-width="1.6"/>
<circle cx="447.21" cy="140.61" r="2.1" fill="#fff" fill-opacity="1" stroke="#000" stroke-width="1.6"/>
<circle cx="442.18" cy="146.39" r="2.1" fill="#fff" fill-opacity="1" stroke="#000" stroke-width="1.6"/>
<circle cx="462.77" cy="69.05" r="2.1" fill="#fff" fill-opacity="1" stroke="#000" stroke-width="1.6"/>
<circle cx="462.77" cy="76.58" r="2.1" fill="#fff" fill-opacity="1" stroke="#000" stroke-width="1.6"/>
<circle cx="462.77" cy="82.86" r="2.1" fill="#fff" fill-opacity="1" stroke="#000" stroke-width="1.6"/>
<circle cx="477.34" cy="133.83" r="2.1" fill="#fff" fill-opacity="1" stroke="#000" stroke-width="1.6"/>
<circle cx="486.63" cy="133.83" r="2.1" fill="#fff" fill-opacity="1" stroke="#000" stroke-width="1.6"/>
<circle cx="481.86" cy="139.36" r="2.1" fill="#fff" fill-opacity="1" stroke="#000" stroke-width="1.6"/>
<circle cx="502.45" cy="62.77" r="2.1" fill="#fff" fill-opacity="1" stroke="#000" stroke-width="1.6"/>
<circle cx="502.45" cy="70.06" r="2.1" fill="#fff" fill-opacity="1" stroke="#000" stroke-width="1.6"/>
<circle cx="502.45" cy="82.86" r="2.1" fill="#fff" fill-opacity="1" stroke="#000" stroke-width="1.6"/>
<circle cx="522.28" cy="126.3" r="2.1" fill="#fff" fill-opacity="1" stroke="#000" stroke-width="1.6"/>
<circle cx="522.28" cy="133.83" r="2.1" fill="#fff" fill-opacity="1" stroke="#000" stroke-width="1.6"/>
<circle cx="522.28" cy="140.11" r="2.1" fill="#fff" fill-opacity="1" stroke="#000" stroke-width="1.6"/>
<line x1="408.5" y1="32.8" x2="408.5" y2="176.2" stroke="#000" stroke-width="1.4" stroke-linecap="butt"/>
<line x1="407.8" y1="175.5" x2="535.7" y2="175.5" stroke="#000" stroke-width="1.4" stroke-linecap="butt"/>
<line x1="401.8" y1="175.5" x2="408.5" y2="175.5" stroke="#000" stroke-width="1.4" stroke-linecap="butt"/>
<text x="401.14" y="179.78" font-size="14.2" text-anchor="end" fill="#000" >0</text>
<line x1="401.8" y1="147.5" x2="408.5" y2="147.5" stroke="#000" stroke-width="1.4" stroke-linecap="butt"/>
<text x="401.14" y="151.28" font-size="14.2" text-anchor="end" fill="#000" >2</text>
<line x1="401.8" y1="118.5" x2="408.5" y2="118.5" stroke="#000" stroke-width="1.4" stroke-linecap="butt"/>
<text x="401.14" y="122.78" font-size="14.2" text-anchor="end" fill="#000" >4</text>
<line x1="401.8" y1="90.5" x2="408.5" y2="90.5" stroke="#000" stroke-width="1.4" stroke-linecap="butt"/>
<text x="401.14" y="94.28" font-size="14.2" text-anchor="end" fill="#000" >6</text>
<line x1="401.8" y1="61.5" x2="408.5" y2="61.5" stroke="#000" stroke-width="1.4" stroke-linecap="butt"/>
<text x="401.14" y="65.78" font-size="14.2" text-anchor="end" fill="#000" >8</text>
<line x1="401.8" y1="33.5" x2="408.5" y2="33.5" stroke="#000" stroke-width="1.4" stroke-linecap="butt"/>
<text x="401.14" y="37.28" font-size="14.2" text-anchor="end" fill="#000" >10</text>
<line x1="401.8" y1="161.5" x2="408.5" y2="161.5" stroke="#000" stroke-width="1.4" stroke-linecap="butt"/>
<line x1="401.8" y1="133.5" x2="408.5" y2="133.5" stroke="#000" stroke-width="1.4" stroke-linecap="butt"/>
<line x1="401.8" y1="104.5" x2="408.5" y2="104.5" stroke="#000" stroke-width="1.4" stroke-linecap="butt"/>
<line x1="401.8" y1="76.5" x2="408.5" y2="76.5" stroke="#000" stroke-width="1.4" stroke-linecap="butt"/>
<line x1="401.8" y1="47.5" x2="408.5" y2="47.5" stroke="#000" stroke-width="1.4" stroke-linecap="butt"/>
<line x1="423.1" y1="47.5" x2="499.94" y2="47.5" stroke="#6c6c6c" stroke-width="1.25" stroke-linecap="butt"/>
<text x="461.02" y="44.69" font-size="7.1" text-anchor="middle" fill="#111" font-style="italic" stroke="#111" stroke-width="0.1">p=0.0001</text>
<line x1="423.1" y1="60.5" x2="459.76" y2="60.5" stroke="#6c6c6c" stroke-width="1.25" stroke-linecap="butt"/>
<text x="441.43" y="57" font-size="7.1" text-anchor="middle" fill="#111" font-style="italic" stroke="#111" stroke-width="0.1">p=0.0002</text>
<line x1="466.54" y1="60.5" x2="486.63" y2="60.5" stroke="#6c6c6c" stroke-width="1.25" stroke-linecap="butt"/>
<text x="475.33" y="57" font-size="7.1" text-anchor="middle" fill="#111" font-style="italic" stroke="#111" stroke-width="0.1">p=00004</text>
<line x1="501.69" y1="57.5" x2="521.78" y2="57.5" stroke="#6c6c6c" stroke-width="1.25" stroke-linecap="butt"/>
<text x="510.98" y="53.99" font-size="7.1" text-anchor="middle" fill="#111" font-style="italic" stroke="#111" stroke-width="0.1">p=00006</text>
<text x="471.2" y="9.9" font-size="13.8" text-anchor="middle" fill="#000" >HCT116</text>
<text x="381.3" y="104.2" font-size="11.25" text-anchor="middle" fill="#000" transform="rotate(-90 381.3 104.2)" >Extra centrosomes (%)</text>
<text x="429.05" y="184.3" font-size="11.3" text-anchor="end" fill="#000" transform="rotate(-45 429.05 184.3)" >H<tspan font-size="7.4" dy="2.6" dx="0.2">2</tspan><tspan dy="-2.6" dx="0.3">O</tspan></text>
<text x="450.44" y="184.3" font-size="11.3" text-anchor="end" fill="#000" transform="rotate(-45 450.44 184.3)" >NF449</text>
<text x="468.97" y="184.3" font-size="11.3" text-anchor="end" fill="#000" transform="rotate(-45 468.97 184.3)" >H<tspan font-size="7.4" dy="2.6" dx="0.2">2</tspan><tspan dy="-2.6" dx="0.3">O</tspan></text>
<text x="490.11" y="184.3" font-size="11.3" text-anchor="end" fill="#000" transform="rotate(-45 490.11 184.3)" >NF449</text>
<text x="508.65" y="184.3" font-size="11.3" text-anchor="end" fill="#000" transform="rotate(-45 508.65 184.3)" >H<tspan font-size="7.4" dy="2.6" dx="0.2">2</tspan><tspan dy="-2.6" dx="0.3">O</tspan></text>
<text x="530.16" y="184.3" font-size="11.3" text-anchor="end" fill="#000" transform="rotate(-45 530.16 184.3)" >NF449</text>
<line x1="404.52" y1="214.5" x2="442.69" y2="214.5" stroke="#555" stroke-width="1.15" stroke-linecap="butt"/>
<text x="425.6" y="226.2" font-size="11.1" text-anchor="middle" fill="#000" >DMSO +</text>
<line x1="448.96" y1="214.5" x2="486.63" y2="214.5" stroke="#555" stroke-width="1.15" stroke-linecap="butt"/>
<text x="468.2" y="226.2" font-size="11.1" text-anchor="middle" fill="#000" >ICI +</text>
<line x1="493.41" y1="214.5" x2="531.07" y2="214.5" stroke="#555" stroke-width="1.15" stroke-linecap="butt"/>
<text x="512.64" y="226.2" font-size="11.1" text-anchor="middle" fill="#000" >Tam +</text>
<rect x="589.33" y="141.87" width="14.82" height="34.73" fill="#C9C9C9" stroke="#000" stroke-width="1.6"/>
<rect x="611.18" y="148.65" width="14.82" height="27.95" fill="#3BA6DE" stroke="#000" stroke-width="1.6"/>
<rect x="633.02" y="76.58" width="15.07" height="100.02" fill="#67C662" stroke="#000" stroke-width="1.6"/>
<rect x="654.36" y="135.09" width="15.82" height="41.51" fill="#3BA6DE" stroke="#000" stroke-width="1.6"/>
<line x1="596.74" y1="134.34" x2="596.74" y2="148.15" stroke="#000" stroke-width="1.55" stroke-linecap="butt"/>
<line x1="590.94" y1="134.34" x2="602.54" y2="134.34" stroke="#000" stroke-width="1.55" stroke-linecap="butt"/>
<line x1="590.94" y1="148.15" x2="602.54" y2="148.15" stroke="#000" stroke-width="1.55" stroke-linecap="butt"/>
<line x1="618.59" y1="141.37" x2="618.59" y2="155.43" stroke="#000" stroke-width="1.55" stroke-linecap="butt"/>
<line x1="612.79" y1="141.37" x2="624.39" y2="141.37" stroke="#000" stroke-width="1.55" stroke-linecap="butt"/>
<line x1="612.79" y1="155.43" x2="624.39" y2="155.43" stroke="#000" stroke-width="1.55" stroke-linecap="butt"/>
<line x1="640.56" y1="72.32" x2="640.56" y2="79.35" stroke="#000" stroke-width="1.55" stroke-linecap="butt"/>
<line x1="634.76" y1="72.32" x2="646.36" y2="72.32" stroke="#000" stroke-width="1.55" stroke-linecap="butt"/>
<line x1="634.76" y1="79.35" x2="646.36" y2="79.35" stroke="#000" stroke-width="1.55" stroke-linecap="butt"/>
<circle cx="597.12" cy="134.34" r="2.1" fill="#fff" fill-opacity="1" stroke="#000" stroke-width="1.6"/>
<circle cx="597.12" cy="141.37" r="2.1" fill="#fff" fill-opacity="1" stroke="#000" stroke-width="1.6"/>
<circle cx="597.12" cy="148.15" r="2.1" fill="#fff" fill-opacity="1" stroke="#000" stroke-width="1.6"/>
<circle cx="618.96" cy="141.37" r="2.1" fill="#fff" fill-opacity="1" stroke="#000" stroke-width="1.6"/>
<circle cx="618.96" cy="148.15" r="2.1" fill="#fff" fill-opacity="1" stroke="#000" stroke-width="1.6"/>
<circle cx="618.96" cy="155.43" r="2.1" fill="#fff" fill-opacity="1" stroke="#000" stroke-width="1.6"/>
<circle cx="640.56" cy="72.32" r="2.1" fill="#fff" fill-opacity="1" stroke="#000" stroke-width="1.6"/>
<circle cx="636.04" cy="78.09" r="2.1" fill="#fff" fill-opacity="1" stroke="#000" stroke-width="1.6"/>
<circle cx="644.57" cy="78.09" r="2.1" fill="#fff" fill-opacity="1" stroke="#000" stroke-width="1.6"/>
<circle cx="653.86" cy="135.09" r="2.1" fill="#fff" fill-opacity="1" stroke="#000" stroke-width="1.6"/>
<circle cx="662.4" cy="135.09" r="2.1" fill="#fff" fill-opacity="1" stroke="#000" stroke-width="1.6"/>
<circle cx="670.44" cy="135.09" r="2.1" fill="#fff" fill-opacity="1" stroke="#000" stroke-width="1.6"/>
<line x1="581.5" y1="35.8" x2="581.5" y2="177.2" stroke="#000" stroke-width="1.4" stroke-linecap="butt"/>
<line x1="580.8" y1="176.5" x2="679.3" y2="176.5" stroke="#000" stroke-width="1.4" stroke-linecap="butt"/>
<line x1="575.1" y1="176.5" x2="581.5" y2="176.5" stroke="#000" stroke-width="1.4" stroke-linecap="butt"/>
<text x="573" y="180.2" font-size="13.4" text-anchor="end" fill="#000" >0</text>
<line x1="575.1" y1="148.5" x2="581.5" y2="148.5" stroke="#000" stroke-width="1.4" stroke-linecap="butt"/>
<text x="573" y="152.26" font-size="13.4" text-anchor="end" fill="#000" >2</text>
<line x1="575.1" y1="120.5" x2="581.5" y2="120.5" stroke="#000" stroke-width="1.4" stroke-linecap="butt"/>
<text x="573" y="124.32" font-size="13.4" text-anchor="end" fill="#000" >4</text>
<line x1="575.1" y1="92.5" x2="581.5" y2="92.5" stroke="#000" stroke-width="1.4" stroke-linecap="butt"/>
<text x="573" y="96.38" font-size="13.4" text-anchor="end" fill="#000" >6</text>
<line x1="575.1" y1="64.5" x2="581.5" y2="64.5" stroke="#000" stroke-width="1.4" stroke-linecap="butt"/>
<text x="573" y="68.44" font-size="13.4" text-anchor="end" fill="#000" >8</text>
<line x1="575.1" y1="36.5" x2="581.5" y2="36.5" stroke="#000" stroke-width="1.4" stroke-linecap="butt"/>
<text x="573" y="40.5" font-size="13.4" text-anchor="end" fill="#000" >10</text>
<line x1="575.1" y1="162.5" x2="581.5" y2="162.5" stroke="#000" stroke-width="1.4" stroke-linecap="butt"/>
<line x1="575.1" y1="134.5" x2="581.5" y2="134.5" stroke="#000" stroke-width="1.4" stroke-linecap="butt"/>
<line x1="575.1" y1="106.5" x2="581.5" y2="106.5" stroke="#000" stroke-width="1.4" stroke-linecap="butt"/>
<line x1="575.1" y1="78.5" x2="581.5" y2="78.5" stroke="#000" stroke-width="1.4" stroke-linecap="butt"/>
<line x1="575.1" y1="50.5" x2="581.5" y2="50.5" stroke="#000" stroke-width="1.4" stroke-linecap="butt"/>
<line x1="598.87" y1="56.5" x2="636.04" y2="56.5" stroke="#6c6c6c" stroke-width="1.25" stroke-linecap="butt"/>
<text x="617.2" y="53.48" font-size="7.1" text-anchor="middle" fill="#111" font-style="italic" stroke="#111" stroke-width="0.1">p=0.0002</text>
<line x1="642.31" y1="56.5" x2="662.4" y2="56.5" stroke="#6c6c6c" stroke-width="1.25" stroke-linecap="butt"/>
<text x="652.36" y="53.48" font-size="7.1" text-anchor="middle" fill="#111" font-style="italic" stroke="#111" stroke-width="0.1">p=0.0004</text>
<text x="630.2" y="9.9" font-size="13.8" text-anchor="middle" fill="#000" >HCT116</text>
<text x="553.9" y="106" font-size="11.25" text-anchor="middle" fill="#000" transform="rotate(-90 553.9 106)" >Extra centrosomes (%)</text>
<text x="602.94" y="185" font-size="11.3" text-anchor="end" fill="#000" transform="rotate(-45 602.94 185)" >H<tspan font-size="7.4" dy="2.6" dx="0.2">2</tspan><tspan dy="-2.6" dx="0.3">O</tspan></text>
<text x="624.79" y="185" font-size="11.3" text-anchor="end" fill="#000" transform="rotate(-45 624.79 185)" >NF449</text>
<text x="646.76" y="185" font-size="11.3" text-anchor="end" fill="#000" transform="rotate(-45 646.76 185)" >H<tspan font-size="7.4" dy="2.6" dx="0.2">2</tspan><tspan dy="-2.6" dx="0.3">O</tspan></text>
<text x="668.48" y="185" font-size="11.3" text-anchor="end" fill="#000" transform="rotate(-45 668.48 185)" >NF449</text>
<line x1="583.31" y1="214.5" x2="621.47" y2="214.5" stroke="#555" stroke-width="1.15" stroke-linecap="butt"/>
<text x="604.39" y="226.2" font-size="11.1" text-anchor="middle" fill="#000" >DMSO +</text>
<line x1="631.01" y1="214.5" x2="668.68" y2="214.5" stroke="#555" stroke-width="1.15" stroke-linecap="butt"/>
<text x="650.25" y="226.2" font-size="11.1" text-anchor="middle" fill="#000" >G-1+</text>
<text x="357.6" y="248.6" font-size="15.3" text-anchor="start" fill="#000" font-weight="bold" >d</text>
<rect x="415.06" y="371.64" width="13.31" height="30.76" fill="#C9C9C9" stroke="#000" stroke-width="1.6"/>
<rect x="434.4" y="379.18" width="12.81" height="23.22" fill="#3BA6DE" stroke="#000" stroke-width="1.6"/>
<rect x="453.73" y="320.67" width="12.56" height="81.73" fill="#E3740F" stroke="#000" stroke-width="1.6"/>
<rect x="472.82" y="371.64" width="12.56" height="30.76" fill="#3BA6DE" stroke="#000" stroke-width="1.6"/>
<rect x="492.15" y="316.4" width="12.31" height="86" fill="#643B17" stroke="#000" stroke-width="1.6"/>
<rect x="510.98" y="363.36" width="12.81" height="39.04" fill="#3BA6DE" stroke="#000" stroke-width="1.6"/>
<line x1="421.72" y1="365.12" x2="421.72" y2="379.18" stroke="#000" stroke-width="1.55" stroke-linecap="butt"/>
<line x1="417.32" y1="365.12" x2="426.12" y2="365.12" stroke="#000" stroke-width="1.55" stroke-linecap="butt"/>
<line x1="417.32" y1="379.18" x2="426.12" y2="379.18" stroke="#000" stroke-width="1.55" stroke-linecap="butt"/>
<line x1="440.8" y1="367.12" x2="440.8" y2="390.22" stroke="#000" stroke-width="1.55" stroke-linecap="butt"/>
<line x1="436.4" y1="367.12" x2="445.2" y2="367.12" stroke="#000" stroke-width="1.55" stroke-linecap="butt"/>
<line x1="436.4" y1="390.22" x2="445.2" y2="390.22" stroke="#000" stroke-width="1.55" stroke-linecap="butt"/>
<line x1="460.01" y1="308.62" x2="460.01" y2="331.97" stroke="#000" stroke-width="1.55" stroke-linecap="butt"/>
<line x1="455.61" y1="308.62" x2="464.41" y2="308.62" stroke="#000" stroke-width="1.55" stroke-linecap="butt"/>
<line x1="455.61" y1="331.97" x2="464.41" y2="331.97" stroke="#000" stroke-width="1.55" stroke-linecap="butt"/>
<line x1="479.09" y1="365.12" x2="479.09" y2="379.18" stroke="#000" stroke-width="1.55" stroke-linecap="butt"/>
<line x1="474.69" y1="365.12" x2="483.49" y2="365.12" stroke="#000" stroke-width="1.55" stroke-linecap="butt"/>
<line x1="474.69" y1="379.18" x2="483.49" y2="379.18" stroke="#000" stroke-width="1.55" stroke-linecap="butt"/>
<line x1="498.3" y1="297.32" x2="498.3" y2="332.47" stroke="#000" stroke-width="1.55" stroke-linecap="butt"/>
<line x1="493.9" y1="297.32" x2="502.7" y2="297.32" stroke="#000" stroke-width="1.55" stroke-linecap="butt"/>
<line x1="493.9" y1="332.47" x2="502.7" y2="332.47" stroke="#000" stroke-width="1.55" stroke-linecap="butt"/>
<line x1="517.39" y1="355.82" x2="517.39" y2="369.64" stroke="#000" stroke-width="1.55" stroke-linecap="butt"/>
<line x1="512.99" y1="355.82" x2="521.79" y2="355.82" stroke="#000" stroke-width="1.55" stroke-linecap="butt"/>
<line x1="512.99" y1="369.64" x2="521.79" y2="369.64" stroke="#000" stroke-width="1.55" stroke-linecap="butt"/>
<circle cx="417.58" cy="367.63" r="2.1" fill="#fff" fill-opacity="1" stroke="#000" stroke-width="1.6"/>
<circle cx="425.86" cy="367.63" r="2.1" fill="#fff" fill-opacity="1" stroke="#000" stroke-width="1.6"/>
<circle cx="421.85" cy="379.18" r="2.1" fill="#fff" fill-opacity="1" stroke="#000" stroke-width="1.6"/>
<circle cx="440.93" cy="367.12" r="2.1" fill="#fff" fill-opacity="1" stroke="#000" stroke-width="1.6"/>
<circle cx="440.93" cy="379.18" r="2.1" fill="#fff" fill-opacity="1" stroke="#000" stroke-width="1.6"/>
<circle cx="440.93" cy="390.22" r="2.1" fill="#fff" fill-opacity="1" stroke="#000" stroke-width="1.6"/>
<circle cx="459.76" cy="308.62" r="2.1" fill="#fff" fill-opacity="1" stroke="#000" stroke-width="1.6"/>
<circle cx="459.76" cy="320.67" r="2.1" fill="#fff" fill-opacity="1" stroke="#000" stroke-width="1.6"/>
<circle cx="459.76" cy="331.97" r="2.1" fill="#fff" fill-opacity="1" stroke="#000" stroke-width="1.6"/>
<circle cx="475.33" cy="367.63" r="2.1" fill="#fff" fill-opacity="1" stroke="#000" stroke-width="1.6"/>
<circle cx="483.61" cy="367.63" r="2.1" fill="#fff" fill-opacity="1" stroke="#000" stroke-width="1.6"/>
<circle cx="479.35" cy="379.18" r="2.1" fill="#fff" fill-opacity="1" stroke="#000" stroke-width="1.6"/>
<circle cx="498.43" cy="297.32" r="2.1" fill="#fff" fill-opacity="1" stroke="#000" stroke-width="1.6"/>
<circle cx="498.43" cy="320.67" r="2.1" fill="#fff" fill-opacity="1" stroke="#000" stroke-width="1.6"/>
<circle cx="498.43" cy="332.47" r="2.1" fill="#fff" fill-opacity="1" stroke="#000" stroke-width="1.6"/>
<circle cx="517.51" cy="355.07" r="2.1" fill="#fff" fill-opacity="1" stroke="#000" stroke-width="1.6"/>
<circle cx="513.49" cy="367.63" r="2.1" fill="#fff" fill-opacity="1" stroke="#000" stroke-width="1.6"/>
<circle cx="521.78" cy="367.63" r="2.1" fill="#fff" fill-opacity="1" stroke="#000" stroke-width="1.6"/>
<line x1="407.5" y1="260.8" x2="407.5" y2="403.2" stroke="#000" stroke-width="1.4" stroke-linecap="butt"/>
<line x1="406.8" y1="402.5" x2="533.2" y2="402.5" stroke="#000" stroke-width="1.4" stroke-linecap="butt"/>
<line x1="400.9" y1="402.5" x2="407.5" y2="402.5" stroke="#000" stroke-width="1.4" stroke-linecap="butt"/>
<text x="399.03" y="406.25" font-size="14.1" text-anchor="end" fill="#000" >0</text>
<line x1="400.9" y1="378.5" x2="407.5" y2="378.5" stroke="#000" stroke-width="1.4" stroke-linecap="butt"/>
<text x="399.03" y="382.8" font-size="14.1" text-anchor="end" fill="#000" >1</text>
<line x1="400.9" y1="355.5" x2="407.5" y2="355.5" stroke="#000" stroke-width="1.4" stroke-linecap="butt"/>
<text x="399.03" y="359.35" font-size="14.1" text-anchor="end" fill="#000" >2</text>
<line x1="400.9" y1="332.5" x2="407.5" y2="332.5" stroke="#000" stroke-width="1.4" stroke-linecap="butt"/>
<text x="399.03" y="335.9" font-size="14.1" text-anchor="end" fill="#000" >3</text>
<line x1="400.9" y1="308.5" x2="407.5" y2="308.5" stroke="#000" stroke-width="1.4" stroke-linecap="butt"/>
<text x="399.03" y="312.45" font-size="14.1" text-anchor="end" fill="#000" >4</text>
<line x1="400.9" y1="285.5" x2="407.5" y2="285.5" stroke="#000" stroke-width="1.4" stroke-linecap="butt"/>
<text x="399.03" y="289" font-size="14.1" text-anchor="end" fill="#000" >5</text>
<line x1="400.9" y1="261.5" x2="407.5" y2="261.5" stroke="#000" stroke-width="1.4" stroke-linecap="butt"/>
<text x="399.03" y="265.55" font-size="14.1" text-anchor="end" fill="#000" >6</text>
<line x1="417.07" y1="276.5" x2="493.41" y2="276.5" stroke="#6c6c6c" stroke-width="1.25" stroke-linecap="butt"/>
<text x="455.24" y="272.96" font-size="7.1" text-anchor="middle" fill="#111" font-style="italic" stroke="#111" stroke-width="0.1">p=0.008</text>
<line x1="417.07" y1="289.5" x2="453.99" y2="289.5" stroke="#6c6c6c" stroke-width="1.25" stroke-linecap="butt"/>
<text x="435.66" y="286.02" font-size="7.1" text-anchor="middle" fill="#111" font-style="italic" stroke="#111" stroke-width="0.1">p=0.010</text>
<line x1="461.02" y1="289.5" x2="480.35" y2="289.5" stroke="#6c6c6c" stroke-width="1.25" stroke-linecap="butt"/>
<text x="470.81" y="286.02" font-size="7.1" text-anchor="middle" fill="#111" font-style="italic" stroke="#111" stroke-width="0.1">p=0.010</text>
<line x1="496.67" y1="286.5" x2="516.01" y2="286.5" stroke="#6c6c6c" stroke-width="1.25" stroke-linecap="butt"/>
<text x="505.96" y="282.51" font-size="7.1" text-anchor="middle" fill="#111" font-style="italic" stroke="#111" stroke-width="0.1">p=0.024</text>
<text x="469.7" y="256.7" font-size="13.8" text-anchor="middle" fill="#000" >HCT-15</text>
<text x="379.5" y="332" font-size="11.25" text-anchor="middle" fill="#000" transform="rotate(-90 379.5 332)" >Extra centrosomes (%)</text>
<text x="425.42" y="411.8" font-size="11.3" text-anchor="end" fill="#000" transform="rotate(-45 425.42 411.8)" >H<tspan font-size="7.4" dy="2.6" dx="0.2">2</tspan><tspan dy="-2.6" dx="0.3">O</tspan></text>
<text x="447" y="411.8" font-size="11.3" text-anchor="end" fill="#000" transform="rotate(-45 447 411.8)" >NF449</text>
<text x="465.21" y="411.8" font-size="11.3" text-anchor="end" fill="#000" transform="rotate(-45 465.21 411.8)" >H<tspan font-size="7.4" dy="2.6" dx="0.2">2</tspan><tspan dy="-2.6" dx="0.3">O</tspan></text>
<text x="485.29" y="411.8" font-size="11.3" text-anchor="end" fill="#000" transform="rotate(-45 485.29 411.8)" >NF449</text>
<text x="504.5" y="411.8" font-size="11.3" text-anchor="end" fill="#000" transform="rotate(-45 504.5 411.8)" >H<tspan font-size="7.4" dy="2.6" dx="0.2">2</tspan><tspan dy="-2.6" dx="0.3">O</tspan></text>
<text x="523.59" y="411.8" font-size="11.3" text-anchor="end" fill="#000" transform="rotate(-45 523.59 411.8)" >NF449</text>
<line x1="401.26" y1="442.5" x2="438.92" y2="442.5" stroke="#555" stroke-width="1.15" stroke-linecap="butt"/>
<text x="422.09" y="454.3" font-size="11.1" text-anchor="middle" fill="#000" >DMSO +</text>
<line x1="445.7" y1="442.5" x2="482.86" y2="442.5" stroke="#555" stroke-width="1.15" stroke-linecap="butt"/>
<text x="464.68" y="454.3" font-size="11.1" text-anchor="middle" fill="#000" >ICI +</text>
<line x1="489.89" y1="442.5" x2="526.8" y2="442.5" stroke="#555" stroke-width="1.15" stroke-linecap="butt"/>
<text x="508.75" y="454.3" font-size="11.1" text-anchor="middle" fill="#000" >Tam +</text>
<rect x="588.83" y="382.19" width="14.57" height="19.71" fill="#C9C9C9" stroke="#000" stroke-width="1.6"/>
<rect x="610.92" y="382.19" width="14.57" height="19.71" fill="#3BA6DE" stroke="#000" stroke-width="1.6"/>
<rect x="633.52" y="323.94" width="14.07" height="77.96" fill="#67C662" stroke="#000" stroke-width="1.6"/>
<rect x="655.37" y="370.89" width="14.07" height="31.01" fill="#3BA6DE" stroke="#000" stroke-width="1.6"/>
<line x1="596.11" y1="375.91" x2="596.11" y2="389.72" stroke="#000" stroke-width="1.55" stroke-linecap="butt"/>
<line x1="590.11" y1="375.91" x2="602.11" y2="375.91" stroke="#000" stroke-width="1.55" stroke-linecap="butt"/>
<line x1="590.11" y1="389.72" x2="602.11" y2="389.72" stroke="#000" stroke-width="1.55" stroke-linecap="butt"/>
<line x1="618.21" y1="375.91" x2="618.21" y2="389.72" stroke="#000" stroke-width="1.55" stroke-linecap="butt"/>
<line x1="612.21" y1="375.91" x2="624.21" y2="375.91" stroke="#000" stroke-width="1.55" stroke-linecap="butt"/>
<line x1="612.21" y1="389.72" x2="624.21" y2="389.72" stroke="#000" stroke-width="1.55" stroke-linecap="butt"/>
<line x1="640.56" y1="317.41" x2="640.56" y2="331.47" stroke="#000" stroke-width="1.55" stroke-linecap="butt"/>
<line x1="634.56" y1="317.41" x2="646.56" y2="317.41" stroke="#000" stroke-width="1.55" stroke-linecap="butt"/>
<line x1="634.56" y1="331.47" x2="646.56" y2="331.47" stroke="#000" stroke-width="1.55" stroke-linecap="butt"/>
<line x1="662.4" y1="364.11" x2="662.4" y2="378.42" stroke="#000" stroke-width="1.55" stroke-linecap="butt"/>
<line x1="656.4" y1="364.11" x2="668.4" y2="364.11" stroke="#000" stroke-width="1.55" stroke-linecap="butt"/>
<line x1="656.4" y1="378.42" x2="668.4" y2="378.42" stroke="#000" stroke-width="1.55" stroke-linecap="butt"/>
<circle cx="592.09" cy="377.67" r="2.1" fill="#fff" fill-opacity="1" stroke="#000" stroke-width="1.6"/>
<circle cx="600.38" cy="377.67" r="2.1" fill="#fff" fill-opacity="1" stroke="#000" stroke-width="1.6"/>
<circle cx="596.36" cy="389.72" r="2.1" fill="#fff" fill-opacity="1" stroke="#000" stroke-width="1.6"/>
<circle cx="614.19" cy="377.67" r="2.1" fill="#fff" fill-opacity="1" stroke="#000" stroke-width="1.6"/>
<circle cx="622.48" cy="377.67" r="2.1" fill="#fff" fill-opacity="1" stroke="#000" stroke-width="1.6"/>
<circle cx="618.46" cy="389.72" r="2.1" fill="#fff" fill-opacity="1" stroke="#000" stroke-width="1.6"/>
<circle cx="636.54" cy="319.42" r="2.1" fill="#fff" fill-opacity="1" stroke="#000" stroke-width="1.6"/>
<circle cx="644.82" cy="319.42" r="2.1" fill="#fff" fill-opacity="1" stroke="#000" stroke-width="1.6"/>
<circle cx="640.56" cy="331.47" r="2.1" fill="#fff" fill-opacity="1" stroke="#000" stroke-width="1.6"/>
<circle cx="658.13" cy="367.12" r="2.1" fill="#fff" fill-opacity="1" stroke="#000" stroke-width="1.6"/>
<circle cx="666.17" cy="367.12" r="2.1" fill="#fff" fill-opacity="1" stroke="#000" stroke-width="1.6"/>
<circle cx="662.4" cy="378.42" r="2.1" fill="#fff" fill-opacity="1" stroke="#000" stroke-width="1.6"/>
<line x1="582.5" y1="259.8" x2="582.5" y2="402.2" stroke="#000" stroke-width="1.4" stroke-linecap="butt"/>
<line x1="581.8" y1="401.5" x2="678.8" y2="401.5" stroke="#000" stroke-width="1.4" stroke-linecap="butt"/>
<line x1="575.8" y1="401.5" x2="582.5" y2="401.5" stroke="#000" stroke-width="1.4" stroke-linecap="butt"/>
<text x="573.52" y="405.64" font-size="13.8" text-anchor="end" fill="#000" >0</text>
<line x1="575.8" y1="378.5" x2="582.5" y2="378.5" stroke="#000" stroke-width="1.4" stroke-linecap="butt"/>
<text x="573.52" y="382.14" font-size="13.8" text-anchor="end" fill="#000" >1</text>
<line x1="575.8" y1="354.5" x2="582.5" y2="354.5" stroke="#000" stroke-width="1.4" stroke-linecap="butt"/>
<text x="573.52" y="358.64" font-size="13.8" text-anchor="end" fill="#000" >2</text>
<line x1="575.8" y1="331.5" x2="582.5" y2="331.5" stroke="#000" stroke-width="1.4" stroke-linecap="butt"/>
<text x="573.52" y="335.14" font-size="13.8" text-anchor="end" fill="#000" >3</text>
<line x1="575.8" y1="307.5" x2="582.5" y2="307.5" stroke="#000" stroke-width="1.4" stroke-linecap="butt"/>
<text x="573.52" y="311.64" font-size="13.8" text-anchor="end" fill="#000" >4</text>
<line x1="575.8" y1="284.5" x2="582.5" y2="284.5" stroke="#000" stroke-width="1.4" stroke-linecap="butt"/>
<text x="573.52" y="288.14" font-size="13.8" text-anchor="end" fill="#000" >5</text>
<line x1="575.8" y1="260.5" x2="582.5" y2="260.5" stroke="#000" stroke-width="1.4" stroke-linecap="butt"/>
<text x="573.52" y="264.64" font-size="13.8" text-anchor="end" fill="#000" >6</text>
<line x1="595.36" y1="294.5" x2="636.04" y2="294.5" stroke="#6c6c6c" stroke-width="1.25" stroke-linecap="butt"/>
<text x="615.95" y="291.8" font-size="7.1" text-anchor="middle" fill="#111" font-style="italic" stroke="#111" stroke-width="0.1">p=0.001</text>
<line x1="641.06" y1="306.5" x2="661.15" y2="306.5" stroke="#6c6c6c" stroke-width="1.25" stroke-linecap="butt"/>
<text x="651.6" y="302.59" font-size="7.1" text-anchor="middle" fill="#111" font-style="italic" stroke="#111" stroke-width="0.1">p=0.014</text>
<text x="629.2" y="256.7" font-size="13.8" text-anchor="middle" fill="#000" >HCT-15</text>
<text x="554.1" y="331.5" font-size="11.25" text-anchor="middle" fill="#000" transform="rotate(-90 554.1 331.5)" >Extra centrosomes (%)</text>
<text x="602.31" y="410.3" font-size="11.3" text-anchor="end" fill="#000" transform="rotate(-45 602.31 410.3)" >H<tspan font-size="7.4" dy="2.6" dx="0.2">2</tspan><tspan dy="-2.6" dx="0.3">O</tspan></text>
<text x="624.41" y="410.3" font-size="11.3" text-anchor="end" fill="#000" transform="rotate(-45 624.41 410.3)" >NF449</text>
<text x="646.76" y="410.3" font-size="11.3" text-anchor="end" fill="#000" transform="rotate(-45 646.76 410.3)" >H<tspan font-size="7.4" dy="2.6" dx="0.2">2</tspan><tspan dy="-2.6" dx="0.3">O</tspan></text>
<text x="668.6" y="410.3" font-size="11.3" text-anchor="end" fill="#000" transform="rotate(-45 668.6 410.3)" >NF449</text>
<line x1="582.05" y1="442.5" x2="619.72" y2="442.5" stroke="#555" stroke-width="1.15" stroke-linecap="butt"/>
<text x="602.88" y="454" font-size="11.1" text-anchor="middle" fill="#000" >DMSO +</text>
<line x1="628.5" y1="442.5" x2="666.17" y2="442.5" stroke="#555" stroke-width="1.15" stroke-linecap="butt"/>
<text x="647.74" y="454" font-size="11.1" text-anchor="middle" fill="#000" >G-1+</text>
<text x="0.5" y="477.6" font-size="15.3" text-anchor="start" fill="#000" font-weight="bold" >e</text>
<rect x="54.14" y="551.48" width="14.77" height="80.12" fill="#C9C9C9" stroke="#000" stroke-width="1.6"/>
<rect x="77.52" y="608.5" width="14.77" height="23.1" fill="#F6B435" stroke="#000" stroke-width="1.6"/>
<rect x="101.17" y="596.15" width="14.5" height="35.45" fill="#F32B14" stroke="#000" stroke-width="1.6"/>
<rect x="124.56" y="610.61" width="14.5" height="20.99" fill="#F32B14" stroke="#000" stroke-width="1.6"/>
<rect x="147.95" y="581.44" width="14.77" height="50.16" fill="#F32B14" stroke="#000" stroke-width="1.6"/>
<rect x="171.33" y="584.85" width="14.5" height="46.75" fill="#67C662" stroke="#000" stroke-width="1.6"/>
<line x1="61.52" y1="537.03" x2="61.52" y2="565.15" stroke="#000" stroke-width="1.55" stroke-linecap="butt"/>
<line x1="57.22" y1="537.03" x2="65.82" y2="537.03" stroke="#000" stroke-width="1.55" stroke-linecap="butt"/>
<line x1="57.22" y1="565.15" x2="65.82" y2="565.15" stroke="#000" stroke-width="1.55" stroke-linecap="butt"/>
<line x1="84.91" y1="606.4" x2="84.91" y2="611.13" stroke="#000" stroke-width="1.55" stroke-linecap="butt"/>
<line x1="80.61" y1="606.4" x2="89.21" y2="606.4" stroke="#000" stroke-width="1.55" stroke-linecap="butt"/>
<line x1="80.61" y1="611.13" x2="89.21" y2="611.13" stroke="#000" stroke-width="1.55" stroke-linecap="butt"/>
<line x1="108.42" y1="586.96" x2="108.42" y2="606.66" stroke="#000" stroke-width="1.55" stroke-linecap="butt"/>
<line x1="104.12" y1="586.96" x2="112.72" y2="586.96" stroke="#000" stroke-width="1.55" stroke-linecap="butt"/>
<line x1="104.12" y1="606.66" x2="112.72" y2="606.66" stroke="#000" stroke-width="1.55" stroke-linecap="butt"/>
<line x1="131.81" y1="607.98" x2="131.81" y2="613.76" stroke="#000" stroke-width="1.55" stroke-linecap="butt"/>
<line x1="127.51" y1="607.98" x2="136.11" y2="607.98" stroke="#000" stroke-width="1.55" stroke-linecap="butt"/>
<line x1="127.51" y1="613.76" x2="136.11" y2="613.76" stroke="#000" stroke-width="1.55" stroke-linecap="butt"/>
<line x1="155.33" y1="571.19" x2="155.33" y2="591.42" stroke="#000" stroke-width="1.55" stroke-linecap="butt"/>
<line x1="151.03" y1="571.19" x2="159.63" y2="571.19" stroke="#000" stroke-width="1.55" stroke-linecap="butt"/>
<line x1="151.03" y1="591.42" x2="159.63" y2="591.42" stroke="#000" stroke-width="1.55" stroke-linecap="butt"/>
<line x1="178.58" y1="575.13" x2="178.58" y2="594.05" stroke="#000" stroke-width="1.55" stroke-linecap="butt"/>
<line x1="174.28" y1="575.13" x2="182.88" y2="575.13" stroke="#000" stroke-width="1.55" stroke-linecap="butt"/>
<line x1="174.28" y1="594.05" x2="182.88" y2="594.05" stroke="#000" stroke-width="1.55" stroke-linecap="butt"/>
<circle cx="61.52" cy="504.18" r="1.45" fill="#fff" fill-opacity="0.6" stroke="#000" stroke-width="1.55"/>
<circle cx="61.52" cy="517.85" r="1.45" fill="#fff" fill-opacity="0.6" stroke="#000" stroke-width="1.55"/>
<circle cx="61.52" cy="548.07" r="1.45" fill="#fff" fill-opacity="0.6" stroke="#000" stroke-width="1.55"/>
<circle cx="58.89" cy="570.4" r="1.45" fill="#fff" fill-opacity="0.6" stroke="#000" stroke-width="1.55"/>
<circle cx="64.15" cy="572.5" r="1.45" fill="#fff" fill-opacity="0.6" stroke="#000" stroke-width="1.55"/>
<circle cx="61.52" cy="595.36" r="1.45" fill="#fff" fill-opacity="0.6" stroke="#000" stroke-width="1.55"/>
<circle cx="79.65" cy="607.19" r="1.45" fill="#fff" fill-opacity="0.6" stroke="#000" stroke-width="1.55"/>
<circle cx="85.17" cy="605.35" r="1.45" fill="#fff" fill-opacity="0.6" stroke="#000" stroke-width="1.55"/>
<circle cx="90.95" cy="604.56" r="1.45" fill="#fff" fill-opacity="0.6" stroke="#000" stroke-width="1.55"/>
<circle cx="81.75" cy="614.55" r="1.45" fill="#fff" fill-opacity="0.6" stroke="#000" stroke-width="1.55"/>
<circle cx="87.01" cy="612.97" r="1.45" fill="#fff" fill-opacity="0.6" stroke="#000" stroke-width="1.55"/>
<circle cx="90.42" cy="611.13" r="1.45" fill="#fff" fill-opacity="0.6" stroke="#000" stroke-width="1.55"/>
<circle cx="108.55" cy="558.05" r="1.45" fill="#fff" fill-opacity="0.6" stroke="#000" stroke-width="1.55"/>
<circle cx="108.55" cy="584.85" r="1.45" fill="#fff" fill-opacity="0.6" stroke="#000" stroke-width="1.55"/>
<circle cx="108.55" cy="598.52" r="1.45" fill="#fff" fill-opacity="0.6" stroke="#000" stroke-width="1.55"/>
<circle cx="105.4" cy="605.88" r="1.45" fill="#fff" fill-opacity="0.6" stroke="#000" stroke-width="1.55"/>
<circle cx="111.45" cy="607.19" r="1.45" fill="#fff" fill-opacity="0.6" stroke="#000" stroke-width="1.55"/>
<circle cx="108.55" cy="622.43" r="1.45" fill="#fff" fill-opacity="0.6" stroke="#000" stroke-width="1.55"/>
<circle cx="129.05" cy="605.88" r="1.45" fill="#fff" fill-opacity="0.6" stroke="#000" stroke-width="1.55"/>
<circle cx="134.31" cy="603.25" r="1.45" fill="#fff" fill-opacity="0.6" stroke="#000" stroke-width="1.55"/>
<circle cx="136.93" cy="609.82" r="1.45" fill="#fff" fill-opacity="0.6" stroke="#000" stroke-width="1.55"/>
<circle cx="132.99" cy="613.76" r="1.45" fill="#fff" fill-opacity="0.6" stroke="#000" stroke-width="1.55"/>
<circle cx="129.05" cy="621.64" r="1.45" fill="#fff" fill-opacity="0.6" stroke="#000" stroke-width="1.55"/>
<circle cx="134.83" cy="619.54" r="1.45" fill="#fff" fill-opacity="0.6" stroke="#000" stroke-width="1.55"/>
<circle cx="155.33" cy="542.28" r="1.45" fill="#fff" fill-opacity="0.6" stroke="#000" stroke-width="1.55"/>
<circle cx="155.33" cy="567.77" r="1.45" fill="#fff" fill-opacity="0.6" stroke="#000" stroke-width="1.55"/>
<circle cx="155.33" cy="574.61" r="1.45" fill="#fff" fill-opacity="0.6" stroke="#000" stroke-width="1.55"/>
<circle cx="155.33" cy="591.42" r="1.45" fill="#fff" fill-opacity="0.6" stroke="#000" stroke-width="1.55"/>
<circle cx="152.18" cy="605.88" r="1.45" fill="#fff" fill-opacity="0.6" stroke="#000" stroke-width="1.55"/>
<circle cx="158.48" cy="605.09" r="1.45" fill="#fff" fill-opacity="0.6" stroke="#000" stroke-width="1.55"/>
<circle cx="178.45" cy="552.01" r="1.45" fill="#fff" fill-opacity="0.6" stroke="#000" stroke-width="1.55"/>
<circle cx="178.45" cy="560.68" r="1.45" fill="#fff" fill-opacity="0.6" stroke="#000" stroke-width="1.55"/>
<circle cx="178.45" cy="584.85" r="1.45" fill="#fff" fill-opacity="0.6" stroke="#000" stroke-width="1.55"/>
<circle cx="175.56" cy="599.83" r="1.45" fill="#fff" fill-opacity="0.6" stroke="#000" stroke-width="1.55"/>
<circle cx="181.61" cy="599.83" r="1.45" fill="#fff" fill-opacity="0.6" stroke="#000" stroke-width="1.55"/>
<circle cx="178.45" cy="611.13" r="1.45" fill="#fff" fill-opacity="0.6" stroke="#000" stroke-width="1.55"/>
<line x1="46.5" y1="492.8" x2="46.5" y2="632.2" stroke="#000" stroke-width="1.4" stroke-linecap="butt"/>
<line x1="45.8" y1="631.5" x2="192.8" y2="631.5" stroke="#000" stroke-width="1.4" stroke-linecap="butt"/>
<line x1="41.95" y1="631.5" x2="46.5" y2="631.5" stroke="#000" stroke-width="1.4" stroke-linecap="butt"/>
<text x="41.3" y="634.6" font-size="8.9" text-anchor="end" fill="#222" >0.0</text>
<line x1="41.95" y1="614.5" x2="46.5" y2="614.5" stroke="#000" stroke-width="1.4" stroke-linecap="butt"/>
<text x="41.3" y="617.35" font-size="8.9" text-anchor="end" fill="#222" >0.2</text>
<line x1="41.95" y1="597.5" x2="46.5" y2="597.5" stroke="#000" stroke-width="1.4" stroke-linecap="butt"/>
<text x="41.3" y="600.1" font-size="8.9" text-anchor="end" fill="#222" >0.4</text>
<line x1="41.95" y1="579.5" x2="46.5" y2="579.5" stroke="#000" stroke-width="1.4" stroke-linecap="butt"/>
<text x="41.3" y="582.85" font-size="8.9" text-anchor="end" fill="#222" >0.6</text>
<line x1="41.95" y1="562.5" x2="46.5" y2="562.5" stroke="#000" stroke-width="1.4" stroke-linecap="butt"/>
<text x="41.3" y="565.6" font-size="8.9" text-anchor="end" fill="#222" >0.8</text>
<line x1="41.95" y1="545.5" x2="46.5" y2="545.5" stroke="#000" stroke-width="1.4" stroke-linecap="butt"/>
<text x="41.3" y="548.35" font-size="8.9" text-anchor="end" fill="#222" >1.0</text>
<line x1="41.95" y1="528.5" x2="46.5" y2="528.5" stroke="#000" stroke-width="1.4" stroke-linecap="butt"/>
<text x="41.3" y="531.1" font-size="8.9" text-anchor="end" fill="#222" >1.2</text>
<line x1="41.95" y1="510.5" x2="46.5" y2="510.5" stroke="#000" stroke-width="1.4" stroke-linecap="butt"/>
<text x="41.3" y="513.85" font-size="8.9" text-anchor="end" fill="#222" >1.4</text>
<line x1="41.95" y1="493.5" x2="46.5" y2="493.5" stroke="#000" stroke-width="1.4" stroke-linecap="butt"/>
<text x="41.3" y="496.6" font-size="8.9" text-anchor="end" fill="#222" >1.6</text>
<line x1="43.6" y1="622.5" x2="46.5" y2="622.5" stroke="#000" stroke-width="1.4" stroke-linecap="butt"/>
<line x1="43.6" y1="605.5" x2="46.5" y2="605.5" stroke="#000" stroke-width="1.4" stroke-linecap="butt"/>
<line x1="43.6" y1="588.5" x2="46.5" y2="588.5" stroke="#000" stroke-width="1.4" stroke-linecap="butt"/>
<line x1="43.6" y1="571.5" x2="46.5" y2="571.5" stroke="#000" stroke-width="1.4" stroke-linecap="butt"/>
<line x1="43.6" y1="553.5" x2="46.5" y2="553.5" stroke="#000" stroke-width="1.4" stroke-linecap="butt"/>
<line x1="43.6" y1="536.5" x2="46.5" y2="536.5" stroke="#000" stroke-width="1.4" stroke-linecap="butt"/>
<line x1="43.6" y1="519.5" x2="46.5" y2="519.5" stroke="#000" stroke-width="1.4" stroke-linecap="butt"/>
<line x1="43.6" y1="502.5" x2="46.5" y2="502.5" stroke="#000" stroke-width="1.4" stroke-linecap="butt"/>
<text x="84.38" y="540.71" font-size="7.1" text-anchor="middle" fill="#111" font-style="italic" stroke="#111" stroke-width="0.1">p=0.0093</text>
<text x="108.82" y="530.99" font-size="7.1" text-anchor="middle" fill="#111" font-style="italic" stroke="#111" stroke-width="0.1">p=0.0061</text>
<text x="131.68" y="521.26" font-size="7.1" text-anchor="middle" fill="#111" font-style="italic" stroke="#111" stroke-width="0.1">p=0.0148</text>
<text x="154.28" y="512.59" font-size="7.1" text-anchor="middle" fill="#111" font-style="italic" stroke="#111" stroke-width="0.1">p=0.0182</text>
<text x="179.24" y="503.39" font-size="7.1" text-anchor="middle" fill="#111" font-style="italic" stroke="#111" stroke-width="0.1">p=0.0042</text>
<text x="120" y="481.3" font-size="13.8" text-anchor="middle" fill="#000" >HCT116</text>
<text x="9" y="562.5" font-size="11.1" text-anchor="middle" fill="#000" transform="rotate(-90 9 562.5)" >Luminescence of relative</text>
<text x="23" y="562.5" font-size="11.1" text-anchor="middle" fill="#000" transform="rotate(-90 23 562.5)" >available ATP (RLU x10<tspan font-size="6.5" dy="-3.6">5</tspan><tspan dy="3.6">)</tspan></text>
<text x="67.72" y="640.1" font-size="11.1" text-anchor="end" fill="#000" transform="rotate(-45 67.72 640.1)" >DMSO</text>
<text x="91.11" y="640.1" font-size="11.1" text-anchor="end" fill="#000" transform="rotate(-45 91.11 640.1)" >FSK</text>
<text x="114.62" y="640.1" font-size="11.1" text-anchor="end" fill="#000" transform="rotate(-45 114.62 640.1)" >E2</text>
<text x="138.01" y="640.1" font-size="11.1" text-anchor="end" fill="#000" transform="rotate(-45 138.01 640.1)" >BPA</text>
<text x="161.53" y="640.1" font-size="11.1" text-anchor="end" fill="#000" transform="rotate(-45 161.53 640.1)" >DES</text>
<text x="184.78" y="640.1" font-size="11.1" text-anchor="end" fill="#000" transform="rotate(-45 184.78 640.1)" >G-1</text>
<text x="0.3" y="699.1" font-size="15.3" text-anchor="start" fill="#000" font-weight="bold" >f</text>
<rect x="55.19" y="770.69" width="14.77" height="82.21" fill="#C9C9C9" stroke="#000" stroke-width="1.6"/>
<rect x="78.84" y="798.81" width="14.24" height="54.09" fill="#F6B435" stroke="#000" stroke-width="1.6"/>
<rect x="101.96" y="798.81" width="14.77" height="54.09" fill="#F32B14" stroke="#000" stroke-width="1.6"/>
<rect x="125.08" y="802.23" width="14.77" height="50.67" fill="#F32B14" stroke="#000" stroke-width="1.6"/>
<rect x="148.47" y="798.81" width="14.77" height="54.09" fill="#F32B14" stroke="#000" stroke-width="1.6"/>
<rect x="171.59" y="801.44" width="14.77" height="51.46" fill="#67C662" stroke="#000" stroke-width="1.6"/>
<line x1="62.57" y1="761.5" x2="62.57" y2="779.89" stroke="#000" stroke-width="1.55" stroke-linecap="butt"/>
<line x1="58.27" y1="761.5" x2="66.87" y2="761.5" stroke="#000" stroke-width="1.55" stroke-linecap="butt"/>
<line x1="58.27" y1="779.89" x2="66.87" y2="779.89" stroke="#000" stroke-width="1.55" stroke-linecap="butt"/>
<line x1="85.96" y1="789.61" x2="85.96" y2="808.01" stroke="#000" stroke-width="1.55" stroke-linecap="butt"/>
<line x1="81.66" y1="789.61" x2="90.26" y2="789.61" stroke="#000" stroke-width="1.55" stroke-linecap="butt"/>
<line x1="81.66" y1="808.01" x2="90.26" y2="808.01" stroke="#000" stroke-width="1.55" stroke-linecap="butt"/>
<line x1="109.34" y1="789.09" x2="109.34" y2="808.01" stroke="#000" stroke-width="1.55" stroke-linecap="butt"/>
<line x1="105.04" y1="789.09" x2="113.64" y2="789.09" stroke="#000" stroke-width="1.55" stroke-linecap="butt"/>
<line x1="105.04" y1="808.01" x2="113.64" y2="808.01" stroke="#000" stroke-width="1.55" stroke-linecap="butt"/>
<line x1="132.47" y1="791.19" x2="132.47" y2="812.21" stroke="#000" stroke-width="1.55" stroke-linecap="butt"/>
<line x1="128.17" y1="791.19" x2="136.77" y2="791.19" stroke="#000" stroke-width="1.55" stroke-linecap="butt"/>
<line x1="128.17" y1="812.21" x2="136.77" y2="812.21" stroke="#000" stroke-width="1.55" stroke-linecap="butt"/>
<line x1="155.85" y1="787.77" x2="155.85" y2="809.58" stroke="#000" stroke-width="1.55" stroke-linecap="butt"/>
<line x1="151.55" y1="787.77" x2="160.15" y2="787.77" stroke="#000" stroke-width="1.55" stroke-linecap="butt"/>
<line x1="151.55" y1="809.58" x2="160.15" y2="809.58" stroke="#000" stroke-width="1.55" stroke-linecap="butt"/>
<line x1="178.98" y1="791.72" x2="178.98" y2="810.64" stroke="#000" stroke-width="1.55" stroke-linecap="butt"/>
<line x1="174.68" y1="791.72" x2="183.28" y2="791.72" stroke="#000" stroke-width="1.55" stroke-linecap="butt"/>
<line x1="174.68" y1="810.64" x2="183.28" y2="810.64" stroke="#000" stroke-width="1.55" stroke-linecap="butt"/>
<circle cx="62.57" cy="741" r="1.45" fill="#fff" fill-opacity="0.6" stroke="#000" stroke-width="1.55"/>
<circle cx="59.94" cy="756.77" r="1.45" fill="#fff" fill-opacity="0.6" stroke="#000" stroke-width="1.55"/>
<circle cx="65.2" cy="756.77" r="1.45" fill="#fff" fill-opacity="0.6" stroke="#000" stroke-width="1.55"/>
<circle cx="62.57" cy="779.89" r="1.45" fill="#fff" fill-opacity="0.6" stroke="#000" stroke-width="1.55"/>
<circle cx="59.94" cy="795.13" r="1.45" fill="#fff" fill-opacity="0.6" stroke="#000" stroke-width="1.55"/>
<circle cx="65.2" cy="795.13" r="1.45" fill="#fff" fill-opacity="0.6" stroke="#000" stroke-width="1.55"/>
<circle cx="85.69" cy="766.49" r="1.45" fill="#fff" fill-opacity="0.6" stroke="#000" stroke-width="1.55"/>
<circle cx="85.69" cy="791.19" r="1.45" fill="#fff" fill-opacity="0.6" stroke="#000" stroke-width="1.55"/>
<circle cx="85.69" cy="806.69" r="1.45" fill="#fff" fill-opacity="0.6" stroke="#000" stroke-width="1.55"/>
<circle cx="85.69" cy="810.9" r="1.45" fill="#fff" fill-opacity="0.6" stroke="#000" stroke-width="1.55"/>
<circle cx="85.69" cy="818.52" r="1.45" fill="#fff" fill-opacity="0.6" stroke="#000" stroke-width="1.55"/>
<circle cx="109.34" cy="774.64" r="1.45" fill="#fff" fill-opacity="0.6" stroke="#000" stroke-width="1.55"/>
<circle cx="109.34" cy="779.89" r="1.45" fill="#fff" fill-opacity="0.6" stroke="#000" stroke-width="1.55"/>
<circle cx="109.34" cy="799.6" r="1.45" fill="#fff" fill-opacity="0.6" stroke="#000" stroke-width="1.55"/>
<circle cx="106.19" cy="820.09" r="1.45" fill="#fff" fill-opacity="0.6" stroke="#000" stroke-width="1.55"/>
<circle cx="111.97" cy="818.78" r="1.45" fill="#fff" fill-opacity="0.6" stroke="#000" stroke-width="1.55"/>
<circle cx="132.47" cy="772.53" r="1.45" fill="#fff" fill-opacity="0.6" stroke="#000" stroke-width="1.55"/>
<circle cx="132.47" cy="780.42" r="1.45" fill="#fff" fill-opacity="0.6" stroke="#000" stroke-width="1.55"/>
<circle cx="132.47" cy="815.36" r="1.45" fill="#fff" fill-opacity="0.6" stroke="#000" stroke-width="1.55"/>
<circle cx="129.58" cy="820.09" r="1.45" fill="#fff" fill-opacity="0.6" stroke="#000" stroke-width="1.55"/>
<circle cx="135.62" cy="820.09" r="1.45" fill="#fff" fill-opacity="0.6" stroke="#000" stroke-width="1.55"/>
<circle cx="155.85" cy="768.85" r="1.45" fill="#fff" fill-opacity="0.6" stroke="#000" stroke-width="1.55"/>
<circle cx="155.85" cy="777.79" r="1.45" fill="#fff" fill-opacity="0.6" stroke="#000" stroke-width="1.55"/>
<circle cx="155.85" cy="806.17" r="1.45" fill="#fff" fill-opacity="0.6" stroke="#000" stroke-width="1.55"/>
<circle cx="152.7" cy="820.62" r="1.45" fill="#fff" fill-opacity="0.6" stroke="#000" stroke-width="1.55"/>
<circle cx="158.74" cy="819.83" r="1.45" fill="#fff" fill-opacity="0.6" stroke="#000" stroke-width="1.55"/>
<circle cx="178.98" cy="771.48" r="1.45" fill="#fff" fill-opacity="0.6" stroke="#000" stroke-width="1.55"/>
<circle cx="178.98" cy="785.15" r="1.45" fill="#fff" fill-opacity="0.6" stroke="#000" stroke-width="1.55"/>
<circle cx="178.98" cy="811.42" r="1.45" fill="#fff" fill-opacity="0.6" stroke="#000" stroke-width="1.55"/>
<circle cx="176.35" cy="817.99" r="1.45" fill="#fff" fill-opacity="0.6" stroke="#000" stroke-width="1.55"/>
<circle cx="182.13" cy="817.2" r="1.45" fill="#fff" fill-opacity="0.6" stroke="#000" stroke-width="1.55"/>
<line x1="47.5" y1="713.8" x2="47.5" y2="853.2" stroke="#000" stroke-width="1.4" stroke-linecap="butt"/>
<line x1="46.8" y1="852.5" x2="194.8" y2="852.5" stroke="#000" stroke-width="1.4" stroke-linecap="butt"/>
<line x1="42.95" y1="852.5" x2="47.5" y2="852.5" stroke="#000" stroke-width="1.4" stroke-linecap="butt"/>
<text x="42.3" y="855.9" font-size="8.9" text-anchor="end" fill="#222" >0.0</text>
<line x1="42.95" y1="835.5" x2="47.5" y2="835.5" stroke="#000" stroke-width="1.4" stroke-linecap="butt"/>
<text x="42.3" y="838.66" font-size="8.9" text-anchor="end" fill="#222" >0.5</text>
<line x1="42.95" y1="818.5" x2="47.5" y2="818.5" stroke="#000" stroke-width="1.4" stroke-linecap="butt"/>
<text x="42.3" y="821.42" font-size="8.9" text-anchor="end" fill="#222" >1.0</text>
<line x1="42.95" y1="801.5" x2="47.5" y2="801.5" stroke="#000" stroke-width="1.4" stroke-linecap="butt"/>
<text x="42.3" y="804.19" font-size="8.9" text-anchor="end" fill="#222" >1.5</text>
<line x1="42.95" y1="783.5" x2="47.5" y2="783.5" stroke="#000" stroke-width="1.4" stroke-linecap="butt"/>
<text x="42.3" y="786.95" font-size="8.9" text-anchor="end" fill="#222" >2.0</text>
<line x1="42.95" y1="766.5" x2="47.5" y2="766.5" stroke="#000" stroke-width="1.4" stroke-linecap="butt"/>
<text x="42.3" y="769.71" font-size="8.9" text-anchor="end" fill="#222" >2.5</text>
<line x1="42.95" y1="749.5" x2="47.5" y2="749.5" stroke="#000" stroke-width="1.4" stroke-linecap="butt"/>
<text x="42.3" y="752.48" font-size="8.9" text-anchor="end" fill="#222" >3.0</text>
<line x1="42.95" y1="732.5" x2="47.5" y2="732.5" stroke="#000" stroke-width="1.4" stroke-linecap="butt"/>
<text x="42.3" y="735.24" font-size="8.9" text-anchor="end" fill="#222" >3.5</text>
<line x1="42.95" y1="714.5" x2="47.5" y2="714.5" stroke="#000" stroke-width="1.4" stroke-linecap="butt"/>
<text x="42.3" y="718" font-size="8.9" text-anchor="end" fill="#222" >4.0</text>
<text x="85.43" y="759.39" font-size="7.1" text-anchor="middle" fill="#111" font-style="italic" stroke="#111" stroke-width="0.1">p=0.0020</text>
<text x="110.13" y="749.67" font-size="7.1" text-anchor="middle" fill="#111" font-style="italic" stroke="#111" stroke-width="0.1">p=0.0128</text>
<text x="132.47" y="740.47" font-size="7.1" text-anchor="middle" fill="#111" font-style="italic" stroke="#111" stroke-width="0.1">p=0.0115</text>
<text x="155.59" y="730.75" font-size="7.1" text-anchor="middle" fill="#111" font-style="italic" stroke="#111" stroke-width="0.1">p=0.0127</text>
<text x="180.03" y="721.29" font-size="7.1" text-anchor="middle" fill="#111" font-style="italic" stroke="#111" stroke-width="0.1">p=0.0280</text>
<text x="121" y="702.3" font-size="13.8" text-anchor="middle" fill="#000" >HCT-15</text>
<text x="10.2" y="785" font-size="11.1" text-anchor="middle" fill="#000" transform="rotate(-90 10.2 785)" >Luminescence of relative</text>
<text x="24.3" y="785" font-size="11.1" text-anchor="middle" fill="#000" transform="rotate(-90 24.3 785)" >available ATP (RLU x10<tspan font-size="6.5" dy="-3.6">4</tspan><tspan dy="3.6">)</tspan></text>
<text x="68.07" y="861.4" font-size="11.1" text-anchor="end" fill="#000" transform="rotate(-45 68.07 861.4)" >DMSO</text>
<text x="91.46" y="861.4" font-size="11.1" text-anchor="end" fill="#000" transform="rotate(-45 91.46 861.4)" >FSK</text>
<text x="114.84" y="861.4" font-size="11.1" text-anchor="end" fill="#000" transform="rotate(-45 114.84 861.4)" >E2</text>
<text x="137.97" y="861.4" font-size="11.1" text-anchor="end" fill="#000" transform="rotate(-45 137.97 861.4)" >BPA</text>
<text x="161.35" y="861.4" font-size="11.1" text-anchor="end" fill="#000" transform="rotate(-45 161.35 861.4)" >DES</text>
<text x="184.48" y="861.4" font-size="11.1" text-anchor="end" fill="#000" transform="rotate(-45 184.48 861.4)" >G-1</text>
<text x="214.8" y="477.6" font-size="15.3" text-anchor="start" fill="#000" font-weight="bold" >g</text>
<rect x="265.03" y="596.15" width="15.32" height="36.55" fill="#C9C9C9" stroke="#000" stroke-width="1.6"/>
<rect x="287.13" y="531.36" width="15.82" height="101.34" fill="#F6B435" stroke="#000" stroke-width="1.6"/>
<rect x="309.73" y="522.07" width="15.32" height="110.63" fill="#66267F" stroke="#000" stroke-width="1.6"/>
<line x1="272.69" y1="584.85" x2="272.69" y2="606.19" stroke="#000" stroke-width="1.55" stroke-linecap="butt"/>
<line x1="266.59" y1="584.85" x2="278.79" y2="584.85" stroke="#000" stroke-width="1.55" stroke-linecap="butt"/>
<line x1="266.59" y1="606.19" x2="278.79" y2="606.19" stroke="#000" stroke-width="1.55" stroke-linecap="butt"/>
<line x1="295.04" y1="522.58" x2="295.04" y2="537.14" stroke="#000" stroke-width="1.55" stroke-linecap="butt"/>
<line x1="288.94" y1="522.58" x2="301.14" y2="522.58" stroke="#000" stroke-width="1.55" stroke-linecap="butt"/>
<line x1="288.94" y1="537.14" x2="301.14" y2="537.14" stroke="#000" stroke-width="1.55" stroke-linecap="butt"/>
<line x1="317.39" y1="515.04" x2="317.39" y2="528.85" stroke="#000" stroke-width="1.55" stroke-linecap="butt"/>
<line x1="311.29" y1="515.04" x2="323.49" y2="515.04" stroke="#000" stroke-width="1.55" stroke-linecap="butt"/>
<line x1="311.29" y1="528.85" x2="323.49" y2="528.85" stroke="#000" stroke-width="1.55" stroke-linecap="butt"/>
<circle cx="272.82" cy="584.34" r="2.1" fill="#fff" fill-opacity="1" stroke="#000" stroke-width="1.6"/>
<circle cx="272.82" cy="598.66" r="2.1" fill="#fff" fill-opacity="1" stroke="#000" stroke-width="1.6"/>
<circle cx="272.82" cy="604.93" r="2.1" fill="#fff" fill-opacity="1" stroke="#000" stroke-width="1.6"/>
<circle cx="294.91" cy="522.07" r="2.1" fill="#fff" fill-opacity="1" stroke="#000" stroke-width="1.6"/>
<circle cx="290.9" cy="535.38" r="2.1" fill="#fff" fill-opacity="1" stroke="#000" stroke-width="1.6"/>
<circle cx="299.18" cy="535.38" r="2.1" fill="#fff" fill-opacity="1" stroke="#000" stroke-width="1.6"/>
<circle cx="317.26" cy="515.04" r="2.1" fill="#fff" fill-opacity="1" stroke="#000" stroke-width="1.6"/>
<circle cx="317.26" cy="522.07" r="2.1" fill="#fff" fill-opacity="1" stroke="#000" stroke-width="1.6"/>
<circle cx="317.26" cy="528.85" r="2.1" fill="#fff" fill-opacity="1" stroke="#000" stroke-width="1.6"/>
<line x1="256.5" y1="493.8" x2="256.5" y2="633.2" stroke="#000" stroke-width="1.4" stroke-linecap="butt"/>
<line x1="255.8" y1="632.5" x2="331.9" y2="632.5" stroke="#000" stroke-width="1.4" stroke-linecap="butt"/>
<line x1="250.2" y1="632.5" x2="256.5" y2="632.5" stroke="#000" stroke-width="1.4" stroke-linecap="butt"/>
<text x="248.92" y="636.44" font-size="13.8" text-anchor="end" fill="#000" >0</text>
<line x1="250.2" y1="604.5" x2="256.5" y2="604.5" stroke="#000" stroke-width="1.4" stroke-linecap="butt"/>
<text x="248.92" y="608.7" font-size="13.8" text-anchor="end" fill="#000" >2</text>
<line x1="250.2" y1="577.5" x2="256.5" y2="577.5" stroke="#000" stroke-width="1.4" stroke-linecap="butt"/>
<text x="248.92" y="580.96" font-size="13.8" text-anchor="end" fill="#000" >4</text>
<line x1="250.2" y1="549.5" x2="256.5" y2="549.5" stroke="#000" stroke-width="1.4" stroke-linecap="butt"/>
<text x="248.92" y="553.22" font-size="13.8" text-anchor="end" fill="#000" >6</text>
<line x1="250.2" y1="521.5" x2="256.5" y2="521.5" stroke="#000" stroke-width="1.4" stroke-linecap="butt"/>
<text x="248.92" y="525.48" font-size="13.8" text-anchor="end" fill="#000" >8</text>
<line x1="250.2" y1="494.5" x2="256.5" y2="494.5" stroke="#000" stroke-width="1.4" stroke-linecap="butt"/>
<text x="248.92" y="497.74" font-size="13.8" text-anchor="end" fill="#000" >10</text>
<line x1="250.2" y1="618.5" x2="256.5" y2="618.5" stroke="#000" stroke-width="1.4" stroke-linecap="butt"/>
<line x1="250.2" y1="591.5" x2="256.5" y2="591.5" stroke="#000" stroke-width="1.4" stroke-linecap="butt"/>
<line x1="250.2" y1="563.5" x2="256.5" y2="563.5" stroke="#000" stroke-width="1.4" stroke-linecap="butt"/>
<line x1="250.2" y1="535.5" x2="256.5" y2="535.5" stroke="#000" stroke-width="1.4" stroke-linecap="butt"/>
<line x1="250.2" y1="507.5" x2="256.5" y2="507.5" stroke="#000" stroke-width="1.4" stroke-linecap="butt"/>
<line x1="272.32" y1="500.5" x2="317.51" y2="500.5" stroke="#6c6c6c" stroke-width="1.25" stroke-linecap="butt"/>
<text x="294.16" y="497.72" font-size="7.1" text-anchor="middle" fill="#111" font-style="italic" stroke="#111" stroke-width="0.1">p&lt;0.0001</text>
<line x1="272.32" y1="514.5" x2="296.17" y2="514.5" stroke="#6c6c6c" stroke-width="1.25" stroke-linecap="butt"/>
<text x="284.12" y="511.28" font-size="7.1" text-anchor="middle" fill="#111" font-style="italic" stroke="#111" stroke-width="0.1">p=0.0003</text>
<text x="293.9" y="481.3" font-size="13.8" text-anchor="middle" fill="#000" >HCT116</text>
<text x="232.7" y="564" font-size="11.25" text-anchor="middle" fill="#000" transform="rotate(-90 232.7 564)" >Extra centrosomes (%)</text>
<text x="278.19" y="641.2" font-size="11.1" text-anchor="end" fill="#000" transform="rotate(-45 278.19 641.2)" >DMSO</text>
<text x="300.54" y="641.2" font-size="11.1" text-anchor="end" fill="#000" transform="rotate(-45 300.54 641.2)" >FSK</text>
<text x="330.39" y="639.7" font-size="11.1" text-anchor="end" fill="#000" transform="rotate(-45 330.39 639.7)" >8-Bromo</text>
<text x="334.79" y="654.3" font-size="11.1" text-anchor="end" fill="#000" transform="rotate(-45 334.79 654.3)" >cAMP</text>
<text x="214.8" y="699.1" font-size="15.3" text-anchor="start" fill="#000" font-weight="bold" >h</text>
<rect x="268.8" y="828.93" width="15.57" height="22.67" fill="#C9C9C9" stroke="#000" stroke-width="1.6"/>
<rect x="292.65" y="771.68" width="15.32" height="79.92" fill="#F6B435" stroke="#000" stroke-width="1.6"/>
<rect x="316" y="764.15" width="15.32" height="87.45" fill="#66267F" stroke="#000" stroke-width="1.6"/>
<line x1="300.31" y1="748.08" x2="300.31" y2="794.53" stroke="#000" stroke-width="1.55" stroke-linecap="butt"/>
<line x1="294.21" y1="748.08" x2="306.41" y2="748.08" stroke="#000" stroke-width="1.55" stroke-linecap="butt"/>
<line x1="294.21" y1="794.53" x2="306.41" y2="794.53" stroke="#000" stroke-width="1.55" stroke-linecap="butt"/>
<line x1="323.66" y1="750.34" x2="323.66" y2="776.96" stroke="#000" stroke-width="1.55" stroke-linecap="butt"/>
<line x1="317.56" y1="750.34" x2="329.76" y2="750.34" stroke="#000" stroke-width="1.55" stroke-linecap="butt"/>
<line x1="317.56" y1="776.96" x2="329.76" y2="776.96" stroke="#000" stroke-width="1.55" stroke-linecap="butt"/>
<circle cx="270.31" cy="829.44" r="2.1" fill="#fff" fill-opacity="1" stroke="#000" stroke-width="1.6"/>
<circle cx="276.58" cy="829.44" r="2.1" fill="#fff" fill-opacity="1" stroke="#000" stroke-width="1.6"/>
<circle cx="283.36" cy="829.44" r="2.1" fill="#fff" fill-opacity="1" stroke="#000" stroke-width="1.6"/>
<circle cx="300.44" cy="748.08" r="2.1" fill="#fff" fill-opacity="1" stroke="#000" stroke-width="1.6"/>
<circle cx="300.44" cy="771.68" r="2.1" fill="#fff" fill-opacity="1" stroke="#000" stroke-width="1.6"/>
<circle cx="300.44" cy="794.53" r="2.1" fill="#fff" fill-opacity="1" stroke="#000" stroke-width="1.6"/>
<circle cx="323.54" cy="748.08" r="2.1" fill="#fff" fill-opacity="1" stroke="#000" stroke-width="1.6"/>
<circle cx="319.77" cy="771.68" r="2.1" fill="#fff" fill-opacity="1" stroke="#000" stroke-width="1.6"/>
<circle cx="327.56" cy="771.68" r="2.1" fill="#fff" fill-opacity="1" stroke="#000" stroke-width="1.6"/>
<line x1="260.5" y1="711.8" x2="260.5" y2="852.2" stroke="#000" stroke-width="1.4" stroke-linecap="butt"/>
<line x1="259.8" y1="851.5" x2="340.2" y2="851.5" stroke="#000" stroke-width="1.4" stroke-linecap="butt"/>
<line x1="253.9" y1="851.5" x2="260.5" y2="851.5" stroke="#000" stroke-width="1.4" stroke-linecap="butt"/>
<text x="252.13" y="855.45" font-size="14.1" text-anchor="end" fill="#000" >0</text>
<line x1="253.9" y1="828.5" x2="260.5" y2="828.5" stroke="#000" stroke-width="1.4" stroke-linecap="butt"/>
<text x="252.13" y="832.28" font-size="14.1" text-anchor="end" fill="#000" >1</text>
<line x1="253.9" y1="805.5" x2="260.5" y2="805.5" stroke="#000" stroke-width="1.4" stroke-linecap="butt"/>
<text x="252.13" y="809.11" font-size="14.1" text-anchor="end" fill="#000" >2</text>
<line x1="253.9" y1="782.5" x2="260.5" y2="782.5" stroke="#000" stroke-width="1.4" stroke-linecap="butt"/>
<text x="252.13" y="785.95" font-size="14.1" text-anchor="end" fill="#000" >3</text>
<line x1="253.9" y1="758.5" x2="260.5" y2="758.5" stroke="#000" stroke-width="1.4" stroke-linecap="butt"/>
<text x="252.13" y="762.78" font-size="14.1" text-anchor="end" fill="#000" >4</text>
<line x1="253.9" y1="735.5" x2="260.5" y2="735.5" stroke="#000" stroke-width="1.4" stroke-linecap="butt"/>
<text x="252.13" y="739.61" font-size="14.1" text-anchor="end" fill="#000" >5</text>
<line x1="253.9" y1="712.5" x2="260.5" y2="712.5" stroke="#000" stroke-width="1.4" stroke-linecap="butt"/>
<text x="252.13" y="716.45" font-size="14.1" text-anchor="end" fill="#000" >6</text>
<line x1="276.58" y1="723.5" x2="321.78" y2="723.5" stroke="#6c6c6c" stroke-width="1.25" stroke-linecap="butt"/>
<text x="299.18" y="720.46" font-size="7.1" text-anchor="middle" fill="#111" font-style="italic" stroke="#111" stroke-width="0.1">p=0.0007</text>
<line x1="275.33" y1="737.5" x2="300.44" y2="737.5" stroke="#6c6c6c" stroke-width="1.25" stroke-linecap="butt"/>
<text x="288.39" y="734.27" font-size="7.1" text-anchor="middle" fill="#111" font-style="italic" stroke="#111" stroke-width="0.1">p=0.0004</text>
<text x="299.9" y="702.3" font-size="13.8" text-anchor="middle" fill="#000" >HCT-15</text>
<text x="232.7" y="782" font-size="11.25" text-anchor="middle" fill="#000" transform="rotate(-90 232.7 782)" >Extra centrosomes (%)</text>
<text x="282.08" y="860.1" font-size="11.1" text-anchor="end" fill="#000" transform="rotate(-45 282.08 860.1)" >DMSO</text>
<text x="305.81" y="860.1" font-size="11.1" text-anchor="end" fill="#000" transform="rotate(-45 305.81 860.1)" >FSK</text>
<text x="331.66" y="859.3" font-size="11.1" text-anchor="end" fill="#000" transform="rotate(-45 331.66 859.3)" >8-Bromo</text>
<text x="336.06" y="875.2" font-size="11.1" text-anchor="end" fill="#000" transform="rotate(-45 336.06 875.2)" >cAMP</text>
<text x="346" y="477.6" font-size="15.3" text-anchor="start" fill="#000" font-weight="bold" >i</text>
<rect x="396.24" y="601.67" width="15.57" height="29.73" fill="#C9C9C9" stroke="#000" stroke-width="1.6"/>
<rect x="419.59" y="608.7" width="15.82" height="22.7" fill="#B2804B" stroke="#000" stroke-width="1.6"/>
<rect x="443.45" y="535.38" width="15.82" height="96.02" fill="#F32B14" stroke="#000" stroke-width="1.6"/>
<rect x="467.3" y="596.65" width="15.82" height="34.75" fill="#B2804B" stroke="#000" stroke-width="1.6"/>
<rect x="491.16" y="591.88" width="15.32" height="39.52" fill="#B2804B" stroke="#000" stroke-width="1.6"/>
<rect x="514.76" y="598.66" width="15.32" height="32.74" fill="#B2804B" stroke="#000" stroke-width="1.6"/>
<line x1="404.03" y1="596.15" x2="404.03" y2="604.18" stroke="#000" stroke-width="1.55" stroke-linecap="butt"/>
<line x1="397.63" y1="596.15" x2="410.43" y2="596.15" stroke="#000" stroke-width="1.55" stroke-linecap="butt"/>
<line x1="397.63" y1="604.18" x2="410.43" y2="604.18" stroke="#000" stroke-width="1.55" stroke-linecap="butt"/>
<line x1="427.51" y1="603.68" x2="427.51" y2="611.21" stroke="#000" stroke-width="1.55" stroke-linecap="butt"/>
<line x1="421.11" y1="603.68" x2="433.91" y2="603.68" stroke="#000" stroke-width="1.55" stroke-linecap="butt"/>
<line x1="421.11" y1="611.21" x2="433.91" y2="611.21" stroke="#000" stroke-width="1.55" stroke-linecap="butt"/>
<line x1="451.36" y1="531.61" x2="451.36" y2="539.65" stroke="#000" stroke-width="1.55" stroke-linecap="butt"/>
<line x1="444.96" y1="531.61" x2="457.76" y2="531.61" stroke="#000" stroke-width="1.55" stroke-linecap="butt"/>
<line x1="444.96" y1="539.65" x2="457.76" y2="539.65" stroke="#000" stroke-width="1.55" stroke-linecap="butt"/>
<line x1="475.21" y1="583.59" x2="475.21" y2="609.96" stroke="#000" stroke-width="1.55" stroke-linecap="butt"/>
<line x1="468.81" y1="583.59" x2="481.61" y2="583.59" stroke="#000" stroke-width="1.55" stroke-linecap="butt"/>
<line x1="468.81" y1="609.96" x2="481.61" y2="609.96" stroke="#000" stroke-width="1.55" stroke-linecap="butt"/>
<line x1="498.82" y1="583.59" x2="498.82" y2="599.91" stroke="#000" stroke-width="1.55" stroke-linecap="butt"/>
<line x1="492.42" y1="583.59" x2="505.22" y2="583.59" stroke="#000" stroke-width="1.55" stroke-linecap="butt"/>
<line x1="492.42" y1="599.91" x2="505.22" y2="599.91" stroke="#000" stroke-width="1.55" stroke-linecap="butt"/>
<line x1="522.42" y1="594.89" x2="522.42" y2="603.18" stroke="#000" stroke-width="1.55" stroke-linecap="butt"/>
<line x1="516.02" y1="594.89" x2="528.82" y2="594.89" stroke="#000" stroke-width="1.55" stroke-linecap="butt"/>
<line x1="516.02" y1="603.18" x2="528.82" y2="603.18" stroke="#000" stroke-width="1.55" stroke-linecap="butt"/>
<circle cx="404.03" cy="596.15" r="2.1" fill="#fff" fill-opacity="1" stroke="#000" stroke-width="1.6"/>
<circle cx="400.26" cy="603.18" r="2.1" fill="#fff" fill-opacity="1" stroke="#000" stroke-width="1.6"/>
<circle cx="407.8" cy="603.18" r="2.1" fill="#fff" fill-opacity="1" stroke="#000" stroke-width="1.6"/>
<circle cx="427.38" cy="603.68" r="2.1" fill="#fff" fill-opacity="1" stroke="#000" stroke-width="1.6"/>
<circle cx="424.12" cy="609.96" r="2.1" fill="#fff" fill-opacity="1" stroke="#000" stroke-width="1.6"/>
<circle cx="430.9" cy="609.96" r="2.1" fill="#fff" fill-opacity="1" stroke="#000" stroke-width="1.6"/>
<circle cx="447.47" cy="533.37" r="2.1" fill="#fff" fill-opacity="1" stroke="#000" stroke-width="1.6"/>
<circle cx="455.5" cy="533.37" r="2.1" fill="#fff" fill-opacity="1" stroke="#000" stroke-width="1.6"/>
<circle cx="451.24" cy="539.65" r="2.1" fill="#fff" fill-opacity="1" stroke="#000" stroke-width="1.6"/>
<circle cx="471.82" cy="588.61" r="2.1" fill="#fff" fill-opacity="1" stroke="#000" stroke-width="1.6"/>
<circle cx="479.36" cy="588.61" r="2.1" fill="#fff" fill-opacity="1" stroke="#000" stroke-width="1.6"/>
<circle cx="475.59" cy="609.96" r="2.1" fill="#fff" fill-opacity="1" stroke="#000" stroke-width="1.6"/>
<circle cx="498.69" cy="581.83" r="2.1" fill="#fff" fill-opacity="1" stroke="#000" stroke-width="1.6"/>
<circle cx="494.93" cy="596.15" r="2.1" fill="#fff" fill-opacity="1" stroke="#000" stroke-width="1.6"/>
<circle cx="502.71" cy="596.15" r="2.1" fill="#fff" fill-opacity="1" stroke="#000" stroke-width="1.6"/>
<circle cx="519.28" cy="596.15" r="2.1" fill="#fff" fill-opacity="1" stroke="#000" stroke-width="1.6"/>
<circle cx="526.06" cy="596.15" r="2.1" fill="#fff" fill-opacity="1" stroke="#000" stroke-width="1.6"/>
<circle cx="522.54" cy="603.18" r="2.1" fill="#fff" fill-opacity="1" stroke="#000" stroke-width="1.6"/>
<line x1="387.5" y1="487.8" x2="387.5" y2="632.2" stroke="#000" stroke-width="1.4" stroke-linecap="butt"/>
<line x1="386.8" y1="631.5" x2="539.4" y2="631.5" stroke="#000" stroke-width="1.4" stroke-linecap="butt"/>
<line x1="381.1" y1="631.5" x2="387.5" y2="631.5" stroke="#000" stroke-width="1.4" stroke-linecap="butt"/>
<text x="378.82" y="635.14" font-size="13.8" text-anchor="end" fill="#000" >0</text>
<line x1="381.1" y1="602.5" x2="387.5" y2="602.5" stroke="#000" stroke-width="1.4" stroke-linecap="butt"/>
<text x="378.82" y="606.64" font-size="13.8" text-anchor="end" fill="#000" >2</text>
<line x1="381.1" y1="574.5" x2="387.5" y2="574.5" stroke="#000" stroke-width="1.4" stroke-linecap="butt"/>
<text x="378.82" y="578.14" font-size="13.8" text-anchor="end" fill="#000" >4</text>
<line x1="381.1" y1="545.5" x2="387.5" y2="545.5" stroke="#000" stroke-width="1.4" stroke-linecap="butt"/>
<text x="378.82" y="549.64" font-size="13.8" text-anchor="end" fill="#000" >6</text>
<line x1="381.1" y1="517.5" x2="387.5" y2="517.5" stroke="#000" stroke-width="1.4" stroke-linecap="butt"/>
<text x="378.82" y="521.14" font-size="13.8" text-anchor="end" fill="#000" >8</text>
<line x1="381.1" y1="488.5" x2="387.5" y2="488.5" stroke="#000" stroke-width="1.4" stroke-linecap="butt"/>
<text x="378.82" y="492.64" font-size="13.8" text-anchor="end" fill="#000" >10</text>
<line x1="381.1" y1="617.5" x2="387.5" y2="617.5" stroke="#000" stroke-width="1.4" stroke-linecap="butt"/>
<line x1="381.1" y1="588.5" x2="387.5" y2="588.5" stroke="#000" stroke-width="1.4" stroke-linecap="butt"/>
<line x1="381.1" y1="560.5" x2="387.5" y2="560.5" stroke="#000" stroke-width="1.4" stroke-linecap="butt"/>
<line x1="381.1" y1="531.5" x2="387.5" y2="531.5" stroke="#000" stroke-width="1.4" stroke-linecap="butt"/>
<line x1="381.1" y1="503.5" x2="387.5" y2="503.5" stroke="#000" stroke-width="1.4" stroke-linecap="butt"/>
<line x1="402.77" y1="517.5" x2="446.72" y2="517.5" stroke="#6c6c6c" stroke-width="1.25" stroke-linecap="butt"/>
<text x="424.62" y="512.03" font-size="7.1" text-anchor="middle" fill="#111" font-style="italic" stroke="#111" stroke-width="0.1">p&lt;0.0001</text>
<line x1="453.49" y1="499.5" x2="522.54" y2="499.5" stroke="#6c6c6c" stroke-width="1.25" stroke-linecap="butt"/>
<text x="487.64" y="496.21" font-size="7.1" text-anchor="middle" fill="#111" font-style="italic" stroke="#111" stroke-width="0.1">p=0.0001</text>
<line x1="453.49" y1="512.5" x2="498.69" y2="512.5" stroke="#6c6c6c" stroke-width="1.25" stroke-linecap="butt"/>
<text x="476.09" y="509.02" font-size="7.1" text-anchor="middle" fill="#111" font-style="italic" stroke="#111" stroke-width="0.1">p=0.0009</text>
<line x1="450.48" y1="525.5" x2="475.59" y2="525.5" stroke="#6c6c6c" stroke-width="1.25" stroke-linecap="butt"/>
<text x="464.29" y="522.58" font-size="7.1" text-anchor="middle" fill="#111" font-style="italic" stroke="#111" stroke-width="0.1">p=0.0004</text>
<text x="463.4" y="481.3" font-size="13.8" text-anchor="middle" fill="#000" >HCT116</text>
<text x="359.9" y="559" font-size="11.25" text-anchor="middle" fill="#000" transform="rotate(-90 359.9 559)" >Extra centrosomes (%)</text>
<text x="409.53" y="639.9" font-size="11.1" text-anchor="end" fill="#000" transform="rotate(-45 409.53 639.9)" >DMSO</text>
<text x="433.01" y="639.9" font-size="11.1" text-anchor="end" fill="#000" transform="rotate(-45 433.01 639.9)" >SQ 22,536</text>
<text x="456.86" y="639.9" font-size="11.1" text-anchor="end" fill="#000" transform="rotate(-45 456.86 639.9)" >BPA</text>
<text x="480.71" y="639.9" font-size="11.1" text-anchor="end" fill="#000" transform="rotate(-45 480.71 639.9)" >E2 + SQ</text>
<text x="504.32" y="639.9" font-size="11.1" text-anchor="end" fill="#000" transform="rotate(-45 504.32 639.9)" >BPA + SQ</text>
<text x="527.92" y="639.9" font-size="11.1" text-anchor="end" fill="#000" transform="rotate(-45 527.92 639.9)" >DES + SQ</text>
<text x="538" y="477.6" font-size="15.3" text-anchor="start" fill="#000" font-weight="bold" >j</text>
<rect x="594.35" y="594.39" width="15.57" height="36.51" fill="#C9C9C9" stroke="#000" stroke-width="1.6"/>
<rect x="616.95" y="601.17" width="15.57" height="29.73" fill="#B2804B" stroke="#000" stroke-width="1.6"/>
<rect x="639.8" y="522.07" width="15.32" height="108.83" fill="#67C662" stroke="#000" stroke-width="1.6"/>
<rect x="662.15" y="587.36" width="15.32" height="43.54" fill="#B2804B" stroke="#000" stroke-width="1.6"/>
<line x1="602.14" y1="589.87" x2="602.14" y2="597.4" stroke="#000" stroke-width="1.55" stroke-linecap="butt"/>
<line x1="595.74" y1="589.87" x2="608.54" y2="589.87" stroke="#000" stroke-width="1.55" stroke-linecap="butt"/>
<line x1="595.74" y1="597.4" x2="608.54" y2="597.4" stroke="#000" stroke-width="1.55" stroke-linecap="butt"/>
<line x1="624.74" y1="589.87" x2="624.74" y2="611.21" stroke="#000" stroke-width="1.55" stroke-linecap="butt"/>
<line x1="618.34" y1="589.87" x2="631.14" y2="589.87" stroke="#000" stroke-width="1.55" stroke-linecap="butt"/>
<line x1="618.34" y1="611.21" x2="631.14" y2="611.21" stroke="#000" stroke-width="1.55" stroke-linecap="butt"/>
<line x1="647.46" y1="510.77" x2="647.46" y2="533.37" stroke="#000" stroke-width="1.55" stroke-linecap="butt"/>
<line x1="641.06" y1="510.77" x2="653.86" y2="510.77" stroke="#000" stroke-width="1.55" stroke-linecap="butt"/>
<line x1="641.06" y1="533.37" x2="653.86" y2="533.37" stroke="#000" stroke-width="1.55" stroke-linecap="butt"/>
<line x1="669.81" y1="583.09" x2="669.81" y2="590.62" stroke="#000" stroke-width="1.55" stroke-linecap="butt"/>
<line x1="663.41" y1="583.09" x2="676.21" y2="583.09" stroke="#000" stroke-width="1.55" stroke-linecap="butt"/>
<line x1="663.41" y1="590.62" x2="676.21" y2="590.62" stroke="#000" stroke-width="1.55" stroke-linecap="butt"/>
<circle cx="602.14" cy="589.87" r="2.1" fill="#fff" fill-opacity="1" stroke="#000" stroke-width="1.6"/>
<circle cx="598.37" cy="596.15" r="2.1" fill="#fff" fill-opacity="1" stroke="#000" stroke-width="1.6"/>
<circle cx="606.41" cy="596.15" r="2.1" fill="#fff" fill-opacity="1" stroke="#000" stroke-width="1.6"/>
<circle cx="624.74" cy="589.87" r="2.1" fill="#fff" fill-opacity="1" stroke="#000" stroke-width="1.6"/>
<circle cx="624.74" cy="604.93" r="2.1" fill="#fff" fill-opacity="1" stroke="#000" stroke-width="1.6"/>
<circle cx="624.74" cy="610.71" r="2.1" fill="#fff" fill-opacity="1" stroke="#000" stroke-width="1.6"/>
<circle cx="647.34" cy="512.78" r="2.1" fill="#fff" fill-opacity="1" stroke="#000" stroke-width="1.6"/>
<circle cx="647.34" cy="519.56" r="2.1" fill="#fff" fill-opacity="1" stroke="#000" stroke-width="1.6"/>
<circle cx="647.34" cy="533.37" r="2.1" fill="#fff" fill-opacity="1" stroke="#000" stroke-width="1.6"/>
<circle cx="669.43" cy="582.34" r="2.1" fill="#fff" fill-opacity="1" stroke="#000" stroke-width="1.6"/>
<circle cx="665.67" cy="588.61" r="2.1" fill="#fff" fill-opacity="1" stroke="#000" stroke-width="1.6"/>
<circle cx="673.7" cy="588.61" r="2.1" fill="#fff" fill-opacity="1" stroke="#000" stroke-width="1.6"/>
<line x1="585.5" y1="488.8" x2="585.5" y2="631.2" stroke="#000" stroke-width="1.4" stroke-linecap="butt"/>
<line x1="584.8" y1="630.5" x2="685.5" y2="630.5" stroke="#000" stroke-width="1.4" stroke-linecap="butt"/>
<line x1="579.1" y1="630.5" x2="585.5" y2="630.5" stroke="#000" stroke-width="1.4" stroke-linecap="butt"/>
<text x="577.02" y="634.64" font-size="13.8" text-anchor="end" fill="#000" >0</text>
<line x1="579.1" y1="602.5" x2="585.5" y2="602.5" stroke="#000" stroke-width="1.4" stroke-linecap="butt"/>
<text x="577.02" y="606.44" font-size="13.8" text-anchor="end" fill="#000" >2</text>
<line x1="579.1" y1="574.5" x2="585.5" y2="574.5" stroke="#000" stroke-width="1.4" stroke-linecap="butt"/>
<text x="577.02" y="578.24" font-size="13.8" text-anchor="end" fill="#000" >4</text>
<line x1="579.1" y1="546.5" x2="585.5" y2="546.5" stroke="#000" stroke-width="1.4" stroke-linecap="butt"/>
<text x="577.02" y="550.04" font-size="13.8" text-anchor="end" fill="#000" >6</text>
<line x1="579.1" y1="518.5" x2="585.5" y2="518.5" stroke="#000" stroke-width="1.4" stroke-linecap="butt"/>
<text x="577.02" y="521.84" font-size="13.8" text-anchor="end" fill="#000" >8</text>
<line x1="579.1" y1="489.5" x2="585.5" y2="489.5" stroke="#000" stroke-width="1.4" stroke-linecap="butt"/>
<text x="577.02" y="493.64" font-size="13.8" text-anchor="end" fill="#000" >10</text>
<line x1="579.1" y1="616.5" x2="585.5" y2="616.5" stroke="#000" stroke-width="1.4" stroke-linecap="butt"/>
<line x1="579.1" y1="588.5" x2="585.5" y2="588.5" stroke="#000" stroke-width="1.4" stroke-linecap="butt"/>
<line x1="579.1" y1="560.5" x2="585.5" y2="560.5" stroke="#000" stroke-width="1.4" stroke-linecap="butt"/>
<line x1="579.1" y1="532.5" x2="585.5" y2="532.5" stroke="#000" stroke-width="1.4" stroke-linecap="butt"/>
<line x1="579.1" y1="504.5" x2="585.5" y2="504.5" stroke="#000" stroke-width="1.4" stroke-linecap="butt"/>
<line x1="601.39" y1="501.5" x2="644.82" y2="501.5" stroke="#6c6c6c" stroke-width="1.25" stroke-linecap="butt"/>
<text x="622.73" y="497.72" font-size="7.1" text-anchor="middle" fill="#111" font-style="italic" stroke="#111" stroke-width="0.1">p&lt;0.0001</text>
<line x1="649.85" y1="501.5" x2="670.69" y2="501.5" stroke="#6c6c6c" stroke-width="1.25" stroke-linecap="butt"/>
<text x="660.39" y="497.72" font-size="7.1" text-anchor="middle" fill="#111" font-style="italic" stroke="#111" stroke-width="0.1">p=0.0003</text>
<text x="634.2" y="481.3" font-size="13.8" text-anchor="middle" fill="#000" >HCT116</text>
<text x="558.7" y="561" font-size="11.25" text-anchor="middle" fill="#000" transform="rotate(-90 558.7 561)" >Extra centrosomes (%)</text>
<text x="607.64" y="639.4" font-size="11.1" text-anchor="end" fill="#000" transform="rotate(-45 607.64 639.4)" >DMSO</text>
<text x="630.24" y="639.4" font-size="11.1" text-anchor="end" fill="#000" transform="rotate(-45 630.24 639.4)" >SQ 22,536</text>
<text x="652.96" y="639.4" font-size="11.1" text-anchor="end" fill="#000" transform="rotate(-45 652.96 639.4)" >G-1</text>
<text x="675.31" y="639.4" font-size="11.1" text-anchor="end" fill="#000" transform="rotate(-45 675.31 639.4)" >G1 + SQ</text>
<text x="346" y="699.1" font-size="15.3" text-anchor="start" fill="#000" font-weight="bold" >k</text>
<rect x="394.99" y="820.15" width="15.57" height="31.45" fill="#C9C9C9" stroke="#000" stroke-width="1.6"/>
<rect x="417.84" y="820.15" width="15.82" height="31.45" fill="#B2804B" stroke="#000" stroke-width="1.6"/>
<rect x="440.94" y="759.88" width="15.32" height="91.72" fill="#F32B14" stroke="#000" stroke-width="1.6"/>
<rect x="463.54" y="820.15" width="15.82" height="31.45" fill="#B2804B" stroke="#000" stroke-width="1.6"/>
<rect x="486.64" y="820.15" width="15.57" height="31.45" fill="#B2804B" stroke="#000" stroke-width="1.6"/>
<rect x="509.73" y="824.41" width="15.32" height="27.19" fill="#B2804B" stroke="#000" stroke-width="1.6"/>
<line x1="402.77" y1="813.12" x2="402.77" y2="827.68" stroke="#000" stroke-width="1.55" stroke-linecap="butt"/>
<line x1="396.47" y1="813.12" x2="409.07" y2="813.12" stroke="#000" stroke-width="1.55" stroke-linecap="butt"/>
<line x1="396.47" y1="827.68" x2="409.07" y2="827.68" stroke="#000" stroke-width="1.55" stroke-linecap="butt"/>
<line x1="425.75" y1="813.12" x2="425.75" y2="827.68" stroke="#000" stroke-width="1.55" stroke-linecap="butt"/>
<line x1="419.45" y1="813.12" x2="432.05" y2="813.12" stroke="#000" stroke-width="1.55" stroke-linecap="butt"/>
<line x1="419.45" y1="827.68" x2="432.05" y2="827.68" stroke="#000" stroke-width="1.55" stroke-linecap="butt"/>
<line x1="448.6" y1="752.85" x2="448.6" y2="767.42" stroke="#000" stroke-width="1.55" stroke-linecap="butt"/>
<line x1="442.3" y1="752.85" x2="454.9" y2="752.85" stroke="#000" stroke-width="1.55" stroke-linecap="butt"/>
<line x1="442.3" y1="767.42" x2="454.9" y2="767.42" stroke="#000" stroke-width="1.55" stroke-linecap="butt"/>
<line x1="471.45" y1="813.12" x2="471.45" y2="827.68" stroke="#000" stroke-width="1.55" stroke-linecap="butt"/>
<line x1="465.15" y1="813.12" x2="477.75" y2="813.12" stroke="#000" stroke-width="1.55" stroke-linecap="butt"/>
<line x1="465.15" y1="827.68" x2="477.75" y2="827.68" stroke="#000" stroke-width="1.55" stroke-linecap="butt"/>
<line x1="494.42" y1="806.34" x2="494.42" y2="833.96" stroke="#000" stroke-width="1.55" stroke-linecap="butt"/>
<line x1="488.12" y1="806.34" x2="500.72" y2="806.34" stroke="#000" stroke-width="1.55" stroke-linecap="butt"/>
<line x1="488.12" y1="833.96" x2="500.72" y2="833.96" stroke="#000" stroke-width="1.55" stroke-linecap="butt"/>
<line x1="517.39" y1="809.6" x2="517.39" y2="838.98" stroke="#000" stroke-width="1.55" stroke-linecap="butt"/>
<line x1="511.09" y1="809.6" x2="523.69" y2="809.6" stroke="#000" stroke-width="1.55" stroke-linecap="butt"/>
<line x1="511.09" y1="838.98" x2="523.69" y2="838.98" stroke="#000" stroke-width="1.55" stroke-linecap="butt"/>
<circle cx="398.63" cy="815.63" r="2.1" fill="#fff" fill-opacity="1" stroke="#000" stroke-width="1.6"/>
<circle cx="406.92" cy="815.63" r="2.1" fill="#fff" fill-opacity="1" stroke="#000" stroke-width="1.6"/>
<circle cx="402.77" cy="827.68" r="2.1" fill="#fff" fill-opacity="1" stroke="#000" stroke-width="1.6"/>
<circle cx="421.61" cy="815.63" r="2.1" fill="#fff" fill-opacity="1" stroke="#000" stroke-width="1.6"/>
<circle cx="429.89" cy="815.63" r="2.1" fill="#fff" fill-opacity="1" stroke="#000" stroke-width="1.6"/>
<circle cx="425.75" cy="827.68" r="2.1" fill="#fff" fill-opacity="1" stroke="#000" stroke-width="1.6"/>
<circle cx="444.96" cy="756.12" r="2.1" fill="#fff" fill-opacity="1" stroke="#000" stroke-width="1.6"/>
<circle cx="452.49" cy="756.12" r="2.1" fill="#fff" fill-opacity="1" stroke="#000" stroke-width="1.6"/>
<circle cx="448.47" cy="767.42" r="2.1" fill="#fff" fill-opacity="1" stroke="#000" stroke-width="1.6"/>
<circle cx="467.31" cy="815.63" r="2.1" fill="#fff" fill-opacity="1" stroke="#000" stroke-width="1.6"/>
<circle cx="475.59" cy="815.63" r="2.1" fill="#fff" fill-opacity="1" stroke="#000" stroke-width="1.6"/>
<circle cx="471.45" cy="827.68" r="2.1" fill="#fff" fill-opacity="1" stroke="#000" stroke-width="1.6"/>
<circle cx="494.42" cy="803.82" r="2.1" fill="#fff" fill-opacity="1" stroke="#000" stroke-width="1.6"/>
<circle cx="490.15" cy="828.18" r="2.1" fill="#fff" fill-opacity="1" stroke="#000" stroke-width="1.6"/>
<circle cx="498.69" cy="828.18" r="2.1" fill="#fff" fill-opacity="1" stroke="#000" stroke-width="1.6"/>
<circle cx="514.26" cy="815.63" r="2.1" fill="#fff" fill-opacity="1" stroke="#000" stroke-width="1.6"/>
<circle cx="521.29" cy="815.63" r="2.1" fill="#fff" fill-opacity="1" stroke="#000" stroke-width="1.6"/>
<circle cx="517.52" cy="838.98" r="2.1" fill="#fff" fill-opacity="1" stroke="#000" stroke-width="1.6"/>
<line x1="386.5" y1="705.8" x2="386.5" y2="852.2" stroke="#000" stroke-width="1.4" stroke-linecap="butt"/>
<line x1="385.8" y1="851.5" x2="532.6" y2="851.5" stroke="#000" stroke-width="1.4" stroke-linecap="butt"/>
<line x1="379.9" y1="851.5" x2="386.5" y2="851.5" stroke="#000" stroke-width="1.4" stroke-linecap="butt"/>
<text x="378.33" y="855.45" font-size="14.1" text-anchor="end" fill="#000" >0</text>
<line x1="379.9" y1="827.5" x2="386.5" y2="827.5" stroke="#000" stroke-width="1.4" stroke-linecap="butt"/>
<text x="378.33" y="831.21" font-size="14.1" text-anchor="end" fill="#000" >1</text>
<line x1="379.9" y1="803.5" x2="386.5" y2="803.5" stroke="#000" stroke-width="1.4" stroke-linecap="butt"/>
<text x="378.33" y="806.98" font-size="14.1" text-anchor="end" fill="#000" >2</text>
<line x1="379.9" y1="778.5" x2="386.5" y2="778.5" stroke="#000" stroke-width="1.4" stroke-linecap="butt"/>
<text x="378.33" y="782.75" font-size="14.1" text-anchor="end" fill="#000" >3</text>
<line x1="379.9" y1="754.5" x2="386.5" y2="754.5" stroke="#000" stroke-width="1.4" stroke-linecap="butt"/>
<text x="378.33" y="758.51" font-size="14.1" text-anchor="end" fill="#000" >4</text>
<line x1="379.9" y1="730.5" x2="386.5" y2="730.5" stroke="#000" stroke-width="1.4" stroke-linecap="butt"/>
<text x="378.33" y="734.28" font-size="14.1" text-anchor="end" fill="#000" >5</text>
<line x1="379.9" y1="706.5" x2="386.5" y2="706.5" stroke="#000" stroke-width="1.4" stroke-linecap="butt"/>
<text x="378.33" y="710.05" font-size="14.1" text-anchor="end" fill="#000" >6</text>
<line x1="402.27" y1="737.5" x2="445.46" y2="737.5" stroke="#6c6c6c" stroke-width="1.25" stroke-linecap="butt"/>
<text x="424.12" y="733.52" font-size="7.1" text-anchor="middle" fill="#111" font-style="italic" stroke="#111" stroke-width="0.1">p=0.004</text>
<line x1="450.48" y1="719.5" x2="520.03" y2="719.5" stroke="#6c6c6c" stroke-width="1.25" stroke-linecap="butt"/>
<text x="485.13" y="715.19" font-size="7.1" text-anchor="middle" fill="#111" font-style="italic" stroke="#111" stroke-width="0.1">p=0.003</text>
<line x1="450.48" y1="732.5" x2="495.68" y2="732.5" stroke="#6c6c6c" stroke-width="1.25" stroke-linecap="butt"/>
<text x="473.08" y="728.25" font-size="7.1" text-anchor="middle" fill="#111" font-style="italic" stroke="#111" stroke-width="0.1">p=0.006</text>
<line x1="450.48" y1="746.5" x2="472.33" y2="746.5" stroke="#6c6c6c" stroke-width="1.25" stroke-linecap="butt"/>
<text x="461.28" y="742.81" font-size="7.1" text-anchor="middle" fill="#111" font-style="italic" stroke="#111" stroke-width="0.1">p=0.004</text>
<text x="459.6" y="702.3" font-size="13.8" text-anchor="middle" fill="#000" >HCT-15</text>
<text x="359.9" y="779" font-size="11.25" text-anchor="middle" fill="#000" transform="rotate(-90 359.9 779)" >Extra centrosomes (%)</text>
<text x="408.27" y="860.1" font-size="11.1" text-anchor="end" fill="#000" transform="rotate(-45 408.27 860.1)" >DMSO</text>
<text x="431.25" y="860.1" font-size="11.1" text-anchor="end" fill="#000" transform="rotate(-45 431.25 860.1)" >SQ 22,536</text>
<text x="454.1" y="860.1" font-size="11.1" text-anchor="end" fill="#000" transform="rotate(-45 454.1 860.1)" >BPA</text>
<text x="476.95" y="860.1" font-size="11.1" text-anchor="end" fill="#000" transform="rotate(-45 476.95 860.1)" >E2 + SQ</text>
<text x="499.92" y="860.1" font-size="11.1" text-anchor="end" fill="#000" transform="rotate(-45 499.92 860.1)" >BPA + SQ</text>
<text x="522.89" y="860.1" font-size="11.1" text-anchor="end" fill="#000" transform="rotate(-45 522.89 860.1)" >DES + SQ</text>
<text x="538.3" y="699.1" font-size="15.3" text-anchor="start" fill="#000" font-weight="bold" >l</text>
<rect x="593.35" y="824.41" width="15.32" height="27.19" fill="#C9C9C9" stroke="#000" stroke-width="1.6"/>
<rect x="614.69" y="824.41" width="15.82" height="27.19" fill="#B2804B" stroke="#000" stroke-width="1.6"/>
<rect x="637.29" y="758.63" width="15.07" height="92.97" fill="#67C662" stroke="#000" stroke-width="1.6"/>
<rect x="659.14" y="816.88" width="14.82" height="34.72" fill="#B2804B" stroke="#000" stroke-width="1.6"/>
<line x1="601.01" y1="816.88" x2="601.01" y2="828.93" stroke="#000" stroke-width="1.55" stroke-linecap="butt"/>
<line x1="594.71" y1="816.88" x2="607.31" y2="816.88" stroke="#000" stroke-width="1.55" stroke-linecap="butt"/>
<line x1="594.71" y1="828.93" x2="607.31" y2="828.93" stroke="#000" stroke-width="1.55" stroke-linecap="butt"/>
<line x1="622.6" y1="816.88" x2="622.6" y2="828.93" stroke="#000" stroke-width="1.55" stroke-linecap="butt"/>
<line x1="616.3" y1="816.88" x2="628.9" y2="816.88" stroke="#000" stroke-width="1.55" stroke-linecap="butt"/>
<line x1="616.3" y1="828.93" x2="628.9" y2="828.93" stroke="#000" stroke-width="1.55" stroke-linecap="butt"/>
<line x1="666.54" y1="804.58" x2="666.54" y2="828.18" stroke="#000" stroke-width="1.55" stroke-linecap="butt"/>
<line x1="660.24" y1="804.58" x2="672.84" y2="804.58" stroke="#000" stroke-width="1.55" stroke-linecap="butt"/>
<line x1="660.24" y1="828.18" x2="672.84" y2="828.18" stroke="#000" stroke-width="1.55" stroke-linecap="butt"/>
<circle cx="600.88" cy="816.88" r="2.1" fill="#fff" fill-opacity="1" stroke="#000" stroke-width="1.6"/>
<circle cx="597.12" cy="828.18" r="2.1" fill="#fff" fill-opacity="1" stroke="#000" stroke-width="1.6"/>
<circle cx="604.65" cy="828.18" r="2.1" fill="#fff" fill-opacity="1" stroke="#000" stroke-width="1.6"/>
<circle cx="622.48" cy="816.88" r="2.1" fill="#fff" fill-opacity="1" stroke="#000" stroke-width="1.6"/>
<circle cx="618.71" cy="828.18" r="2.1" fill="#fff" fill-opacity="1" stroke="#000" stroke-width="1.6"/>
<circle cx="626.24" cy="828.18" r="2.1" fill="#fff" fill-opacity="1" stroke="#000" stroke-width="1.6"/>
<circle cx="638.55" cy="758.63" r="2.1" fill="#fff" fill-opacity="1" stroke="#000" stroke-width="1.6"/>
<circle cx="644.82" cy="758.63" r="2.1" fill="#fff" fill-opacity="1" stroke="#000" stroke-width="1.6"/>
<circle cx="651.6" cy="758.63" r="2.1" fill="#fff" fill-opacity="1" stroke="#000" stroke-width="1.6"/>
<circle cx="666.67" cy="804.58" r="2.1" fill="#fff" fill-opacity="1" stroke="#000" stroke-width="1.6"/>
<circle cx="666.67" cy="816.88" r="2.1" fill="#fff" fill-opacity="1" stroke="#000" stroke-width="1.6"/>
<circle cx="666.67" cy="828.18" r="2.1" fill="#fff" fill-opacity="1" stroke="#000" stroke-width="1.6"/>
<line x1="585.5" y1="709.8" x2="585.5" y2="852.2" stroke="#000" stroke-width="1.4" stroke-linecap="butt"/>
<line x1="584.8" y1="851.5" x2="682.6" y2="851.5" stroke="#000" stroke-width="1.4" stroke-linecap="butt"/>
<line x1="579.4" y1="851.5" x2="585.5" y2="851.5" stroke="#000" stroke-width="1.4" stroke-linecap="butt"/>
<text x="577.43" y="855.45" font-size="14.1" text-anchor="end" fill="#000" >0</text>
<line x1="579.4" y1="828.5" x2="585.5" y2="828.5" stroke="#000" stroke-width="1.4" stroke-linecap="butt"/>
<text x="577.43" y="831.93" font-size="14.1" text-anchor="end" fill="#000" >1</text>
<line x1="579.4" y1="804.5" x2="585.5" y2="804.5" stroke="#000" stroke-width="1.4" stroke-linecap="butt"/>
<text x="577.43" y="808.41" font-size="14.1" text-anchor="end" fill="#000" >2</text>
<line x1="579.4" y1="781.5" x2="585.5" y2="781.5" stroke="#000" stroke-width="1.4" stroke-linecap="butt"/>
<text x="577.43" y="784.9" font-size="14.1" text-anchor="end" fill="#000" >3</text>
<line x1="579.4" y1="757.5" x2="585.5" y2="757.5" stroke="#000" stroke-width="1.4" stroke-linecap="butt"/>
<text x="577.43" y="761.38" font-size="14.1" text-anchor="end" fill="#000" >4</text>
<line x1="579.4" y1="734.5" x2="585.5" y2="734.5" stroke="#000" stroke-width="1.4" stroke-linecap="butt"/>
<text x="577.43" y="737.86" font-size="14.1" text-anchor="end" fill="#000" >5</text>
<line x1="579.4" y1="710.5" x2="585.5" y2="710.5" stroke="#000" stroke-width="1.4" stroke-linecap="butt"/>
<text x="577.43" y="714.35" font-size="14.1" text-anchor="end" fill="#000" >6</text>
<line x1="598.37" y1="732.5" x2="642.31" y2="732.5" stroke="#6c6c6c" stroke-width="1.25" stroke-linecap="butt"/>
<text x="620.47" y="727.74" font-size="7.1" text-anchor="middle" fill="#111" font-style="italic" stroke="#111" stroke-width="0.1">p=0.001</text>
<line x1="647.34" y1="732.5" x2="667.42" y2="732.5" stroke="#6c6c6c" stroke-width="1.25" stroke-linecap="butt"/>
<text x="657.38" y="727.74" font-size="7.1" text-anchor="middle" fill="#111" font-style="italic" stroke="#111" stroke-width="0.1">p=0.006</text>
<text x="634" y="702.3" font-size="13.8" text-anchor="middle" fill="#000" >HCT-15</text>
<text x="558.7" y="782" font-size="11.25" text-anchor="middle" fill="#000" transform="rotate(-90 558.7 782)" >Extra centrosomes (%)</text>
<text x="606.51" y="860.1" font-size="11.1" text-anchor="end" fill="#000" transform="rotate(-45 606.51 860.1)" >DMSO</text>
<text x="628.1" y="860.1" font-size="11.1" text-anchor="end" fill="#000" transform="rotate(-45 628.1 860.1)" >SQ 22,536</text>
<text x="650.32" y="860.1" font-size="11.1" text-anchor="end" fill="#000" transform="rotate(-45 650.32 860.1)" >G-1</text>
<text x="672.04" y="860.1" font-size="11.1" text-anchor="end" fill="#000" transform="rotate(-45 672.04 860.1)" >G1 + SQ</text>
</svg>
</body></html>
